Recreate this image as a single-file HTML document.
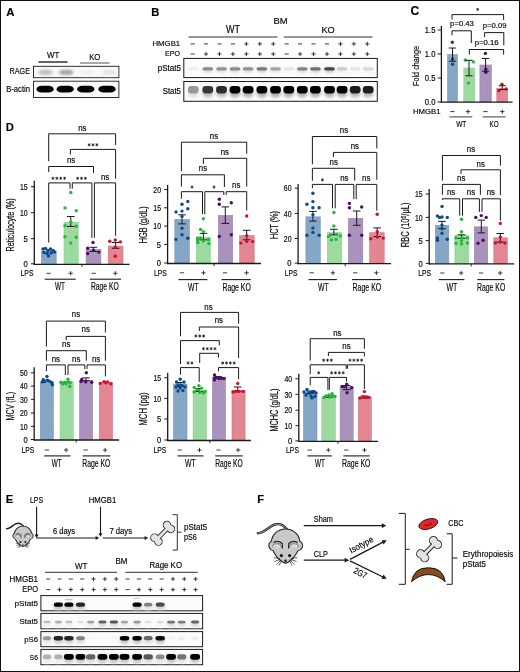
<!DOCTYPE html><html><head><meta charset="utf-8"><style>html,body{margin:0;padding:0;background:#fff;}svg{display:block;}text{font-family:"Liberation Sans",sans-serif;stroke:#1a1a1a;stroke-width:0.18px;}</style></head><body>
<div style="will-change:transform;width:520px;height:672px">
<svg width="520" height="672" viewBox="0 0 520 672">
<defs><filter id="bl" x="-50%" y="-80%" width="200%" height="260%"><feGaussianBlur stdDeviation="0.7"/></filter><filter id="bl2" x="-50%" y="-80%" width="200%" height="260%"><feGaussianBlur stdDeviation="1.1"/></filter><filter id="bl3" x="-80%" y="-100%" width="260%" height="300%"><feGaussianBlur stdDeviation="1.6"/></filter></defs>
<rect x="0" y="0" width="520" height="672" fill="#fff"/>
<text x="6.30" y="15.80" font-size="11.4" font-weight="bold" fill="#000" >A</text>
<text x="47.00" y="58.40" font-size="8.7" textLength="12.30" lengthAdjust="spacingAndGlyphs" >WT</text>
<line x1="38.40" y1="62.00" x2="67.60" y2="62.00" stroke="#111" stroke-width="1.3" />
<text x="89.20" y="59.50" font-size="8.7" textLength="11.20" lengthAdjust="spacingAndGlyphs" >KO</text>
<line x1="80.00" y1="63.00" x2="109.60" y2="63.00" stroke="#6e6e6e" stroke-width="1.2" />
<text x="30.00" y="74.40" font-size="8.6" text-anchor="end" textLength="20.40" lengthAdjust="spacingAndGlyphs" >RAGE</text>
<text x="30.00" y="91.90" font-size="8.4" text-anchor="end" textLength="23.80" lengthAdjust="spacingAndGlyphs" >B-actin</text>
<rect x="33.50" y="66.30" width="85.40" height="11.40" fill="#fafafa" stroke="#1a1a1a" stroke-width="0.9" />
<ellipse cx="45.50" cy="72.40" rx="8.00" ry="3.00" fill="#d7d7d7" filter="url(#bl3)"/>
<rect x="39.50" y="70.40" width="12.00" height="3.60" rx="3.60" ry="1.51" fill="#bcbcbc" filter="url(#bl2)"/>
<ellipse cx="66.20" cy="72.40" rx="8.00" ry="3.00" fill="#c7c7c7" filter="url(#bl3)"/>
<rect x="60.20" y="70.40" width="12.00" height="3.60" rx="3.60" ry="1.51" fill="#a3a3a3" filter="url(#bl2)"/>
<ellipse cx="86.60" cy="72.40" rx="8.00" ry="3.00" fill="#f5f5f5" filter="url(#bl3)"/>
<rect x="80.60" y="70.40" width="12.00" height="3.60" rx="3.60" ry="1.51" fill="#efefef" filter="url(#bl2)"/>
<ellipse cx="109.50" cy="72.40" rx="8.00" ry="3.00" fill="#efefef" filter="url(#bl3)"/>
<rect x="103.50" y="70.40" width="12.00" height="3.60" rx="3.60" ry="1.51" fill="#e5e5e5" filter="url(#bl2)"/>
<rect x="33.50" y="81.20" width="85.40" height="16.30" fill="#fafafa" stroke="#1a1a1a" stroke-width="0.9" />
<rect x="36.50" y="85.80" width="17.20" height="6.80" rx="5.16" ry="3.40" fill="#000000" filter="url(#bl)"/>
<rect x="56.60" y="85.80" width="17.20" height="6.80" rx="5.16" ry="3.40" fill="#000000" filter="url(#bl)"/>
<rect x="77.20" y="85.80" width="17.20" height="6.80" rx="5.16" ry="3.40" fill="#000000" filter="url(#bl)"/>
<rect x="98.40" y="85.80" width="17.20" height="6.80" rx="5.16" ry="3.40" fill="#000000" filter="url(#bl)"/>
<text x="151.30" y="15.60" font-size="11.2" font-weight="bold" fill="#000" >B</text>
<text x="273.50" y="23.50" font-size="9.6" textLength="14.20" lengthAdjust="spacingAndGlyphs" >BM</text>
<text x="226.00" y="32.50" font-size="10.4" textLength="14.00" lengthAdjust="spacingAndGlyphs" >WT</text>
<line x1="188.70" y1="37.00" x2="277.50" y2="37.00" stroke="#1a1a1a" stroke-width="0.9" />
<text x="321.40" y="33.00" font-size="9.8" textLength="13.40" lengthAdjust="spacingAndGlyphs" >KO</text>
<line x1="283.70" y1="37.00" x2="372.50" y2="37.00" stroke="#1a1a1a" stroke-width="0.9" />
<text x="180.20" y="46.00" font-size="7.9" text-anchor="end" textLength="27.70" lengthAdjust="spacingAndGlyphs" >HMGB1</text>
<text x="180.00" y="56.30" font-size="7.6" text-anchor="end" textLength="15.00" lengthAdjust="spacingAndGlyphs" >EPO</text>
<line x1="190.50" y1="43.90" x2="194.70" y2="43.90" stroke="#1a1a1a" stroke-width="0.85" />
<line x1="190.50" y1="54.00" x2="194.70" y2="54.00" stroke="#1a1a1a" stroke-width="0.85" />
<line x1="203.94" y1="43.90" x2="208.14" y2="43.90" stroke="#1a1a1a" stroke-width="0.85" />
<line x1="203.94" y1="54.00" x2="208.14" y2="54.00" stroke="#1a1a1a" stroke-width="0.85" />
<line x1="206.04" y1="51.90" x2="206.04" y2="56.10" stroke="#1a1a1a" stroke-width="0.85" />
<line x1="217.38" y1="43.90" x2="221.58" y2="43.90" stroke="#1a1a1a" stroke-width="0.85" />
<line x1="217.38" y1="54.00" x2="221.58" y2="54.00" stroke="#1a1a1a" stroke-width="0.85" />
<line x1="219.48" y1="51.90" x2="219.48" y2="56.10" stroke="#1a1a1a" stroke-width="0.85" />
<line x1="230.82" y1="43.90" x2="235.02" y2="43.90" stroke="#1a1a1a" stroke-width="0.85" />
<line x1="230.82" y1="54.00" x2="235.02" y2="54.00" stroke="#1a1a1a" stroke-width="0.85" />
<line x1="232.92" y1="51.90" x2="232.92" y2="56.10" stroke="#1a1a1a" stroke-width="0.85" />
<line x1="244.26" y1="43.90" x2="248.46" y2="43.90" stroke="#1a1a1a" stroke-width="0.85" />
<line x1="246.36" y1="41.80" x2="246.36" y2="46.00" stroke="#1a1a1a" stroke-width="0.85" />
<line x1="244.26" y1="54.00" x2="248.46" y2="54.00" stroke="#1a1a1a" stroke-width="0.85" />
<line x1="246.36" y1="51.90" x2="246.36" y2="56.10" stroke="#1a1a1a" stroke-width="0.85" />
<line x1="257.70" y1="43.90" x2="261.90" y2="43.90" stroke="#1a1a1a" stroke-width="0.85" />
<line x1="259.80" y1="41.80" x2="259.80" y2="46.00" stroke="#1a1a1a" stroke-width="0.85" />
<line x1="257.70" y1="54.00" x2="261.90" y2="54.00" stroke="#1a1a1a" stroke-width="0.85" />
<line x1="259.80" y1="51.90" x2="259.80" y2="56.10" stroke="#1a1a1a" stroke-width="0.85" />
<line x1="271.14" y1="43.90" x2="275.34" y2="43.90" stroke="#1a1a1a" stroke-width="0.85" />
<line x1="273.24" y1="41.80" x2="273.24" y2="46.00" stroke="#1a1a1a" stroke-width="0.85" />
<line x1="271.14" y1="54.00" x2="275.34" y2="54.00" stroke="#1a1a1a" stroke-width="0.85" />
<line x1="273.24" y1="51.90" x2="273.24" y2="56.10" stroke="#1a1a1a" stroke-width="0.85" />
<line x1="284.58" y1="43.90" x2="288.78" y2="43.90" stroke="#1a1a1a" stroke-width="0.85" />
<line x1="284.58" y1="54.00" x2="288.78" y2="54.00" stroke="#1a1a1a" stroke-width="0.85" />
<line x1="298.02" y1="43.90" x2="302.22" y2="43.90" stroke="#1a1a1a" stroke-width="0.85" />
<line x1="298.02" y1="54.00" x2="302.22" y2="54.00" stroke="#1a1a1a" stroke-width="0.85" />
<line x1="300.12" y1="51.90" x2="300.12" y2="56.10" stroke="#1a1a1a" stroke-width="0.85" />
<line x1="311.46" y1="43.90" x2="315.66" y2="43.90" stroke="#1a1a1a" stroke-width="0.85" />
<line x1="311.46" y1="54.00" x2="315.66" y2="54.00" stroke="#1a1a1a" stroke-width="0.85" />
<line x1="313.56" y1="51.90" x2="313.56" y2="56.10" stroke="#1a1a1a" stroke-width="0.85" />
<line x1="324.90" y1="43.90" x2="329.10" y2="43.90" stroke="#1a1a1a" stroke-width="0.85" />
<line x1="324.90" y1="54.00" x2="329.10" y2="54.00" stroke="#1a1a1a" stroke-width="0.85" />
<line x1="327.00" y1="51.90" x2="327.00" y2="56.10" stroke="#1a1a1a" stroke-width="0.85" />
<line x1="338.34" y1="43.90" x2="342.54" y2="43.90" stroke="#1a1a1a" stroke-width="0.85" />
<line x1="340.44" y1="41.80" x2="340.44" y2="46.00" stroke="#1a1a1a" stroke-width="0.85" />
<line x1="338.34" y1="54.00" x2="342.54" y2="54.00" stroke="#1a1a1a" stroke-width="0.85" />
<line x1="340.44" y1="51.90" x2="340.44" y2="56.10" stroke="#1a1a1a" stroke-width="0.85" />
<line x1="351.78" y1="43.90" x2="355.98" y2="43.90" stroke="#1a1a1a" stroke-width="0.85" />
<line x1="353.88" y1="41.80" x2="353.88" y2="46.00" stroke="#1a1a1a" stroke-width="0.85" />
<line x1="351.78" y1="54.00" x2="355.98" y2="54.00" stroke="#1a1a1a" stroke-width="0.85" />
<line x1="353.88" y1="51.90" x2="353.88" y2="56.10" stroke="#1a1a1a" stroke-width="0.85" />
<line x1="365.22" y1="43.90" x2="369.42" y2="43.90" stroke="#1a1a1a" stroke-width="0.85" />
<line x1="367.32" y1="41.80" x2="367.32" y2="46.00" stroke="#1a1a1a" stroke-width="0.85" />
<line x1="365.22" y1="54.00" x2="369.42" y2="54.00" stroke="#1a1a1a" stroke-width="0.85" />
<line x1="367.32" y1="51.90" x2="367.32" y2="56.10" stroke="#1a1a1a" stroke-width="0.85" />
<text x="181.00" y="70.80" font-size="8.2" text-anchor="end" textLength="23.20" lengthAdjust="spacingAndGlyphs" >pStat5</text>
<text x="181.00" y="94.00" font-size="8.2" text-anchor="end" textLength="18.30" lengthAdjust="spacingAndGlyphs" >Stat5</text>
<rect x="183.80" y="58.40" width="193.50" height="19.20" fill="#fbfbfb" stroke="#1a1a1a" stroke-width="1.0" />
<ellipse cx="193.30" cy="70.00" rx="5.25" ry="3.00" fill="#fafafa" filter="url(#bl3)"/>
<rect x="188.10" y="67.20" width="10.40" height="3.40" rx="3.12" ry="1.43" fill="#efefef" filter="url(#bl)"/>
<ellipse cx="207.80" cy="70.00" rx="5.25" ry="3.00" fill="#dcdcdc" filter="url(#bl3)"/>
<rect x="202.60" y="67.20" width="10.40" height="3.40" rx="3.12" ry="1.43" fill="#8c8c8c" filter="url(#bl)"/>
<ellipse cx="221.50" cy="70.00" rx="5.25" ry="3.00" fill="#dedede" filter="url(#bl3)"/>
<rect x="216.30" y="67.20" width="10.40" height="3.40" rx="3.12" ry="1.43" fill="#939393" filter="url(#bl)"/>
<ellipse cx="235.00" cy="70.00" rx="5.25" ry="3.00" fill="#dcdcdc" filter="url(#bl3)"/>
<rect x="229.80" y="67.20" width="10.40" height="3.40" rx="3.12" ry="1.43" fill="#8c8c8c" filter="url(#bl)"/>
<ellipse cx="248.10" cy="70.00" rx="5.25" ry="3.00" fill="#dedede" filter="url(#bl3)"/>
<rect x="242.90" y="67.20" width="10.40" height="3.40" rx="3.12" ry="1.43" fill="#939393" filter="url(#bl)"/>
<ellipse cx="261.90" cy="70.00" rx="5.25" ry="3.00" fill="#d7d7d7" filter="url(#bl3)"/>
<rect x="256.70" y="67.20" width="10.40" height="3.40" rx="3.12" ry="1.43" fill="#7a7a7a" filter="url(#bl)"/>
<ellipse cx="275.50" cy="70.00" rx="5.25" ry="3.00" fill="#e3e3e3" filter="url(#bl3)"/>
<rect x="270.30" y="67.20" width="10.40" height="3.40" rx="3.12" ry="1.43" fill="#a3a3a3" filter="url(#bl)"/>
<ellipse cx="288.80" cy="70.00" rx="5.25" ry="3.00" fill="#f7f7f7" filter="url(#bl3)"/>
<rect x="283.60" y="67.20" width="10.40" height="3.40" rx="3.12" ry="1.43" fill="#e5e5e5" filter="url(#bl)"/>
<ellipse cx="302.30" cy="70.00" rx="5.25" ry="3.00" fill="#dadada" filter="url(#bl3)"/>
<rect x="297.10" y="67.20" width="10.40" height="3.40" rx="3.12" ry="1.43" fill="#848484" filter="url(#bl)"/>
<ellipse cx="315.40" cy="70.00" rx="5.25" ry="3.00" fill="#d4d4d4" filter="url(#bl3)"/>
<rect x="310.20" y="67.20" width="10.40" height="3.40" rx="3.12" ry="1.43" fill="#727272" filter="url(#bl)"/>
<ellipse cx="329.50" cy="70.00" rx="5.25" ry="3.00" fill="#c7c7c7" filter="url(#bl3)"/>
<rect x="324.30" y="67.20" width="10.40" height="3.40" rx="3.12" ry="1.43" fill="#474747" filter="url(#bl)"/>
<ellipse cx="342.10" cy="70.00" rx="5.25" ry="3.00" fill="#efefef" filter="url(#bl3)"/>
<rect x="336.90" y="67.20" width="10.40" height="3.40" rx="3.12" ry="1.43" fill="#cccccc" filter="url(#bl)"/>
<ellipse cx="355.20" cy="70.00" rx="5.25" ry="3.00" fill="#f7f7f7" filter="url(#bl3)"/>
<rect x="350.00" y="67.20" width="10.40" height="3.40" rx="3.12" ry="1.43" fill="#e5e5e5" filter="url(#bl)"/>
<ellipse cx="368.20" cy="70.00" rx="5.25" ry="3.00" fill="#f3f3f3" filter="url(#bl3)"/>
<rect x="363.00" y="67.20" width="10.40" height="3.40" rx="3.12" ry="1.43" fill="#d8d8d8" filter="url(#bl)"/>
<rect x="183.80" y="81.50" width="193.50" height="19.80" fill="#fbfbfb" stroke="#1a1a1a" stroke-width="1.0" />
<ellipse cx="193.30" cy="93.00" rx="5.50" ry="4.50" fill="#e0e0e0" filter="url(#bl3)"/>
<rect x="187.90" y="86.00" width="10.80" height="7.40" rx="3.24" ry="3.11" fill="#999999" filter="url(#bl)"/>
<ellipse cx="207.80" cy="93.00" rx="5.50" ry="4.50" fill="#c3c3c3" filter="url(#bl3)"/>
<rect x="202.40" y="86.00" width="10.80" height="7.40" rx="3.24" ry="3.11" fill="#383838" filter="url(#bl)"/>
<ellipse cx="221.50" cy="93.00" rx="5.50" ry="4.50" fill="#c0c0c0" filter="url(#bl3)"/>
<rect x="216.10" y="86.00" width="10.80" height="7.40" rx="3.24" ry="3.11" fill="#2d2d2d" filter="url(#bl)"/>
<ellipse cx="235.00" cy="93.00" rx="5.50" ry="4.50" fill="#b2b2b2" filter="url(#bl3)"/>
<rect x="229.60" y="86.00" width="10.80" height="7.40" rx="3.24" ry="3.11" fill="#000000" filter="url(#bl)"/>
<ellipse cx="248.10" cy="93.00" rx="5.50" ry="4.50" fill="#b2b2b2" filter="url(#bl3)"/>
<rect x="242.70" y="86.00" width="10.80" height="7.40" rx="3.24" ry="3.11" fill="#000000" filter="url(#bl)"/>
<ellipse cx="261.90" cy="93.00" rx="5.50" ry="4.50" fill="#b2b2b2" filter="url(#bl3)"/>
<rect x="256.50" y="86.00" width="10.80" height="7.40" rx="3.24" ry="3.11" fill="#000000" filter="url(#bl)"/>
<ellipse cx="275.50" cy="93.00" rx="5.50" ry="4.50" fill="#b2b2b2" filter="url(#bl3)"/>
<rect x="270.10" y="86.00" width="10.80" height="7.40" rx="3.24" ry="3.11" fill="#000000" filter="url(#bl)"/>
<ellipse cx="288.80" cy="93.00" rx="5.50" ry="4.50" fill="#b2b2b2" filter="url(#bl3)"/>
<rect x="283.40" y="86.00" width="10.80" height="7.40" rx="3.24" ry="3.11" fill="#000000" filter="url(#bl)"/>
<ellipse cx="302.30" cy="93.00" rx="5.50" ry="4.50" fill="#b2b2b2" filter="url(#bl3)"/>
<rect x="296.90" y="86.00" width="10.80" height="7.40" rx="3.24" ry="3.11" fill="#000000" filter="url(#bl)"/>
<ellipse cx="315.40" cy="93.00" rx="5.50" ry="4.50" fill="#b2b2b2" filter="url(#bl3)"/>
<rect x="310.00" y="86.00" width="10.80" height="7.40" rx="3.24" ry="3.11" fill="#000000" filter="url(#bl)"/>
<ellipse cx="329.50" cy="93.00" rx="5.50" ry="4.50" fill="#b2b2b2" filter="url(#bl3)"/>
<rect x="324.10" y="86.00" width="10.80" height="7.40" rx="3.24" ry="3.11" fill="#000000" filter="url(#bl)"/>
<ellipse cx="342.10" cy="93.00" rx="5.50" ry="4.50" fill="#b2b2b2" filter="url(#bl3)"/>
<rect x="336.70" y="86.00" width="10.80" height="7.40" rx="3.24" ry="3.11" fill="#000000" filter="url(#bl)"/>
<ellipse cx="355.20" cy="93.00" rx="5.50" ry="4.50" fill="#bbbbbb" filter="url(#bl3)"/>
<rect x="349.80" y="86.00" width="10.80" height="7.40" rx="3.24" ry="3.11" fill="#1e1e1e" filter="url(#bl)"/>
<ellipse cx="368.20" cy="93.00" rx="5.50" ry="4.50" fill="#bbbbbb" filter="url(#bl3)"/>
<rect x="362.80" y="86.00" width="10.80" height="7.40" rx="3.24" ry="3.11" fill="#1e1e1e" filter="url(#bl)"/>
<text x="410.40" y="15.30" font-size="12.0" font-weight="bold" fill="#000" >C</text>
<rect x="447.60" y="54.60" width="9.80" height="47.40" fill="#86a6c6" stroke="#7898ba" stroke-width="0.6" />
<rect x="463.80" y="68.00" width="10.90" height="34.00" fill="#9ddaa0" stroke="#8ccf90" stroke-width="0.6" />
<rect x="479.90" y="65.00" width="11.40" height="37.00" fill="#aa92bc" stroke="#9a82ae" stroke-width="0.6" />
<rect x="496.80" y="88.30" width="10.90" height="13.70" fill="#e18692" stroke="#d87684" stroke-width="0.6" />
<circle cx="452.30" cy="42.20" r="1.7" fill="#0b4a8b"/>
<circle cx="452.60" cy="58.90" r="1.7" fill="#0b4a8b"/>
<circle cx="452.60" cy="64.20" r="1.7" fill="#0b4a8b"/>
<circle cx="465.30" cy="60.00" r="1.7" fill="#27b53c"/>
<circle cx="473.40" cy="61.90" r="1.7" fill="#27b53c"/>
<circle cx="468.50" cy="83.10" r="1.7" fill="#27b53c"/>
<circle cx="485.40" cy="53.40" r="1.7" fill="#4b1068"/>
<circle cx="485.80" cy="69.20" r="1.7" fill="#4b1068"/>
<circle cx="485.80" cy="72.20" r="1.7" fill="#4b1068"/>
<circle cx="498.80" cy="90.70" r="1.7" fill="#d0112b"/>
<circle cx="502.00" cy="84.20" r="1.7" fill="#d0112b"/>
<circle cx="506.20" cy="88.90" r="1.7" fill="#d0112b"/>
<line x1="452.50" y1="48.00" x2="452.50" y2="61.20" stroke="#1a1a1a" stroke-width="1.0" />
<line x1="448.90" y1="48.00" x2="456.10" y2="48.00" stroke="#1a1a1a" stroke-width="1.0" />
<line x1="448.90" y1="61.20" x2="456.10" y2="61.20" stroke="#1a1a1a" stroke-width="1.0" />
<line x1="469.00" y1="60.30" x2="469.00" y2="75.80" stroke="#1a1a1a" stroke-width="1.0" />
<line x1="465.40" y1="60.30" x2="472.60" y2="60.30" stroke="#1a1a1a" stroke-width="1.0" />
<line x1="465.40" y1="75.80" x2="472.60" y2="75.80" stroke="#1a1a1a" stroke-width="1.0" />
<line x1="485.60" y1="58.50" x2="485.60" y2="71.20" stroke="#1a1a1a" stroke-width="1.0" />
<line x1="482.00" y1="58.50" x2="489.20" y2="58.50" stroke="#1a1a1a" stroke-width="1.0" />
<line x1="482.00" y1="71.20" x2="489.20" y2="71.20" stroke="#1a1a1a" stroke-width="1.0" />
<line x1="502.20" y1="85.70" x2="502.20" y2="89.60" stroke="#1a1a1a" stroke-width="1.0" />
<line x1="498.60" y1="85.70" x2="505.80" y2="85.70" stroke="#1a1a1a" stroke-width="1.0" />
<line x1="498.60" y1="89.60" x2="505.80" y2="89.60" stroke="#1a1a1a" stroke-width="1.0" />
<line x1="441.40" y1="26.00" x2="441.40" y2="102.70" stroke="#1a1a1a" stroke-width="1.3" />
<line x1="440.80" y1="102.10" x2="512.50" y2="102.10" stroke="#1a1a1a" stroke-width="1.3" />
<line x1="437.60" y1="30.00" x2="441.20" y2="30.00" stroke="#1a1a1a" stroke-width="1.0" />
<text x="435.40" y="33.10" font-size="8.6" text-anchor="end" textLength="10.60" lengthAdjust="spacingAndGlyphs" >1.5</text>
<line x1="437.60" y1="54.00" x2="441.20" y2="54.00" stroke="#1a1a1a" stroke-width="1.0" />
<text x="435.40" y="57.10" font-size="8.6" text-anchor="end" textLength="10.60" lengthAdjust="spacingAndGlyphs" >1.0</text>
<line x1="437.60" y1="78.00" x2="441.20" y2="78.00" stroke="#1a1a1a" stroke-width="1.0" />
<text x="435.40" y="81.10" font-size="8.6" text-anchor="end" textLength="10.60" lengthAdjust="spacingAndGlyphs" >0.5</text>
<line x1="437.60" y1="102.00" x2="441.20" y2="102.00" stroke="#1a1a1a" stroke-width="1.0" />
<text x="435.40" y="105.10" font-size="8.6" text-anchor="end" textLength="10.60" lengthAdjust="spacingAndGlyphs" >0.0</text>
<text x="419.20" y="66.00" font-size="9.4" text-anchor="middle" textLength="40.00" lengthAdjust="spacingAndGlyphs" transform="rotate(-90 419.20 66.00)" >Fold change</text>
<polyline points="452.00,19.30 452.00,14.60 503.60,14.60 503.60,20.00" fill="none" stroke="#1a1a1a" stroke-width="1.0"/>
<path d="M477.70,7.85L477.70,10.95M476.36,8.62L479.04,10.18M479.04,8.62L476.36,10.18" stroke="#1a1a1a" stroke-width="0.8" fill="none"/>
<polyline points="452.00,35.40 452.00,30.80 471.30,30.80 471.30,43.00" fill="none" stroke="#1a1a1a" stroke-width="1.0"/>
<text x="462.00" y="26.30" font-size="7.8" text-anchor="middle" textLength="23.80" lengthAdjust="spacingAndGlyphs" >p=0.43</text>
<polyline points="484.60,37.00 484.60,32.60 503.80,32.60 503.80,45.40" fill="none" stroke="#1a1a1a" stroke-width="1.0"/>
<text x="494.70" y="27.70" font-size="7.8" text-anchor="middle" textLength="23.70" lengthAdjust="spacingAndGlyphs" >p=0.09</text>
<polyline points="469.30,54.60 469.30,49.50 503.60,49.50 503.60,54.60" fill="none" stroke="#1a1a1a" stroke-width="1.0"/>
<text x="486.60" y="45.10" font-size="7.8" text-anchor="middle" textLength="23.90" lengthAdjust="spacingAndGlyphs" >p=0.16</text>
<text x="440.60" y="113.70" font-size="7.9" text-anchor="end" textLength="27.60" lengthAdjust="spacingAndGlyphs" >HMGB1</text>
<line x1="450.20" y1="111.60" x2="454.60" y2="111.60" stroke="#1a1a1a" stroke-width="0.85" />
<line x1="465.85" y1="111.60" x2="470.15" y2="111.60" stroke="#1a1a1a" stroke-width="0.85" />
<line x1="468.00" y1="109.45" x2="468.00" y2="113.75" stroke="#1a1a1a" stroke-width="0.85" />
<line x1="483.20" y1="111.60" x2="487.60" y2="111.60" stroke="#1a1a1a" stroke-width="0.85" />
<line x1="500.15" y1="111.60" x2="504.45" y2="111.60" stroke="#1a1a1a" stroke-width="0.85" />
<line x1="502.30" y1="109.45" x2="502.30" y2="113.75" stroke="#1a1a1a" stroke-width="0.85" />
<line x1="449.40" y1="116.90" x2="472.30" y2="116.90" stroke="#1a1a1a" stroke-width="0.85" />
<line x1="482.80" y1="116.90" x2="505.50" y2="116.90" stroke="#1a1a1a" stroke-width="0.85" />
<text x="461.25" y="127.40" font-size="9.4" text-anchor="middle" textLength="10.10" lengthAdjust="spacingAndGlyphs" >WT</text>
<text x="494.15" y="127.40" font-size="9.4" text-anchor="middle" textLength="9.10" lengthAdjust="spacingAndGlyphs" >KO</text>
<text x="5.80" y="130.80" font-size="11.2" font-weight="bold" fill="#000" >D</text>
<rect x="41.50" y="251.10" width="14.70" height="12.70" fill="#86a6c6" stroke="#7898ba" stroke-width="0.6" />
<rect x="64.00" y="222.20" width="14.20" height="41.60" fill="#9ddaa0" stroke="#8ccf90" stroke-width="0.6" />
<rect x="86.10" y="249.50" width="14.80" height="14.30" fill="#aa92bc" stroke="#9a82ae" stroke-width="0.6" />
<rect x="108.20" y="246.10" width="14.80" height="17.70" fill="#e18692" stroke="#d87684" stroke-width="0.6" />
<polyline points="48.70,161.30 48.70,133.80 115.60,133.80 115.60,145.00" fill="none" stroke="#1a1a1a" stroke-width="1.0"/>
<text x="82.40" y="131.20" font-size="8.4" text-anchor="middle" textLength="8.30" lengthAdjust="spacingAndGlyphs" >ns</text>
<polyline points="70.40,154.60 70.40,149.40 115.60,149.40 115.60,178.70" fill="none" stroke="#1a1a1a" stroke-width="1.0"/>
<path d="M89.15,143.25L89.15,146.35M87.81,144.03L90.49,145.58M90.49,144.03L87.81,145.58M93.00,143.25L93.00,146.35M91.66,144.03L94.34,145.58M94.34,144.03L91.66,145.58M96.85,143.25L96.85,146.35M95.51,144.03L98.19,145.58M98.19,144.03L95.51,145.58" stroke="#1a1a1a" stroke-width="0.8" fill="none"/>
<polyline points="48.70,172.00 48.70,166.50 93.50,166.50 93.50,172.90" fill="none" stroke="#1a1a1a" stroke-width="1.0"/>
<text x="71.10" y="163.30" font-size="8.4" text-anchor="middle" textLength="8.30" lengthAdjust="spacingAndGlyphs" >ns</text>
<polyline points="48.70,242.50 48.70,182.90 70.00,182.90 70.00,188.70" fill="none" stroke="#1a1a1a" stroke-width="1.0"/>
<path d="M53.02,176.75L53.02,179.85M51.68,177.53L54.37,179.08M54.37,177.53L51.68,179.08M56.88,176.75L56.88,179.85M55.53,177.53L58.22,179.08M58.22,177.53L55.53,179.08M60.73,176.75L60.73,179.85M59.38,177.53L62.07,179.08M62.07,177.53L59.38,179.08M64.58,176.75L64.58,179.85M63.23,177.53L65.92,179.08M65.92,177.53L63.23,179.08" stroke="#1a1a1a" stroke-width="0.8" fill="none"/>
<polyline points="72.30,188.70 72.30,182.90 91.90,182.90 91.90,238.00" fill="none" stroke="#1a1a1a" stroke-width="1.0"/>
<path d="M77.65,176.75L77.65,179.85M76.31,177.53L78.99,179.08M78.99,177.53L76.31,179.08M81.50,176.75L81.50,179.85M80.16,177.53L82.84,179.08M82.84,177.53L80.16,179.08M85.35,176.75L85.35,179.85M84.01,177.53L86.69,179.08M86.69,177.53L84.01,179.08" stroke="#1a1a1a" stroke-width="0.8" fill="none"/>
<polyline points="94.40,237.70 94.40,182.90 115.60,182.90 115.60,235.80" fill="none" stroke="#1a1a1a" stroke-width="1.0"/>
<text x="105.10" y="179.60" font-size="8.4" text-anchor="middle" textLength="8.30" lengthAdjust="spacingAndGlyphs" >ns</text>
<line x1="70.80" y1="216.50" x2="70.80" y2="226.50" stroke="#1a1a1a" stroke-width="1.0" />
<line x1="67.00" y1="216.50" x2="74.60" y2="216.50" stroke="#1a1a1a" stroke-width="1.0" />
<line x1="67.00" y1="226.50" x2="74.60" y2="226.50" stroke="#1a1a1a" stroke-width="1.0" />
<line x1="93.30" y1="247.30" x2="93.30" y2="251.50" stroke="#1a1a1a" stroke-width="1.0" />
<line x1="89.50" y1="247.30" x2="97.10" y2="247.30" stroke="#1a1a1a" stroke-width="1.0" />
<line x1="89.50" y1="251.50" x2="97.10" y2="251.50" stroke="#1a1a1a" stroke-width="1.0" />
<line x1="115.60" y1="242.50" x2="115.60" y2="248.30" stroke="#1a1a1a" stroke-width="1.0" />
<line x1="111.80" y1="242.50" x2="119.40" y2="242.50" stroke="#1a1a1a" stroke-width="1.0" />
<line x1="111.80" y1="248.30" x2="119.40" y2="248.30" stroke="#1a1a1a" stroke-width="1.0" />
<circle cx="43.00" cy="249.00" r="1.7" fill="#0b4a8b"/>
<circle cx="45.50" cy="248.50" r="1.7" fill="#0b4a8b"/>
<circle cx="48.00" cy="250.50" r="1.7" fill="#0b4a8b"/>
<circle cx="50.50" cy="249.00" r="1.7" fill="#0b4a8b"/>
<circle cx="53.00" cy="250.50" r="1.7" fill="#0b4a8b"/>
<circle cx="54.50" cy="252.00" r="1.7" fill="#0b4a8b"/>
<circle cx="44.00" cy="252.50" r="1.7" fill="#0b4a8b"/>
<circle cx="47.00" cy="253.50" r="1.7" fill="#0b4a8b"/>
<circle cx="51.00" cy="253.00" r="1.7" fill="#0b4a8b"/>
<circle cx="48.50" cy="256.00" r="1.7" fill="#0b4a8b"/>
<circle cx="70.80" cy="192.50" r="1.7" fill="#27b53c"/>
<circle cx="65.00" cy="207.90" r="1.7" fill="#27b53c"/>
<circle cx="76.20" cy="210.80" r="1.7" fill="#27b53c"/>
<circle cx="70.80" cy="221.90" r="1.7" fill="#27b53c"/>
<circle cx="65.00" cy="225.80" r="1.7" fill="#27b53c"/>
<circle cx="76.20" cy="226.20" r="1.7" fill="#27b53c"/>
<circle cx="65.00" cy="236.70" r="1.7" fill="#27b53c"/>
<circle cx="76.20" cy="237.30" r="1.7" fill="#27b53c"/>
<circle cx="70.80" cy="242.90" r="1.7" fill="#27b53c"/>
<circle cx="93.00" cy="242.50" r="1.7" fill="#4b1068"/>
<circle cx="87.70" cy="248.30" r="1.7" fill="#4b1068"/>
<circle cx="93.50" cy="250.20" r="1.7" fill="#4b1068"/>
<circle cx="98.80" cy="252.10" r="1.7" fill="#4b1068"/>
<circle cx="87.70" cy="253.50" r="1.7" fill="#4b1068"/>
<circle cx="109.80" cy="241.20" r="1.7" fill="#d0112b"/>
<circle cx="115.20" cy="240.00" r="1.7" fill="#d0112b"/>
<circle cx="120.40" cy="241.90" r="1.7" fill="#d0112b"/>
<circle cx="115.20" cy="247.30" r="1.7" fill="#d0112b"/>
<circle cx="115.20" cy="256.30" r="1.7" fill="#d0112b"/>
<line x1="34.30" y1="180.70" x2="34.30" y2="264.90" stroke="#1a1a1a" stroke-width="1.3" />
<line x1="33.70" y1="264.30" x2="129.50" y2="264.30" stroke="#1a1a1a" stroke-width="1.3" />
<line x1="82.00" y1="264.30" x2="82.00" y2="266.90" stroke="#1a1a1a" stroke-width="0.9" />
<line x1="30.90" y1="186.70" x2="34.30" y2="186.70" stroke="#1a1a1a" stroke-width="1.0" />
<text x="27.70" y="189.90" font-size="8.6" text-anchor="end" textLength="7.70" lengthAdjust="spacingAndGlyphs" >15</text>
<line x1="30.90" y1="212.70" x2="34.30" y2="212.70" stroke="#1a1a1a" stroke-width="1.0" />
<text x="27.70" y="215.90" font-size="8.6" text-anchor="end" textLength="7.70" lengthAdjust="spacingAndGlyphs" >10</text>
<line x1="30.90" y1="238.70" x2="34.30" y2="238.70" stroke="#1a1a1a" stroke-width="1.0" />
<text x="27.70" y="241.90" font-size="8.6" text-anchor="end" textLength="4.20" lengthAdjust="spacingAndGlyphs" >5</text>
<line x1="30.90" y1="263.80" x2="34.30" y2="263.80" stroke="#1a1a1a" stroke-width="1.0" />
<text x="27.70" y="267.00" font-size="8.6" text-anchor="end" textLength="4.20" lengthAdjust="spacingAndGlyphs" >0</text>
<text x="14.10" y="224.85" font-size="10.0" text-anchor="middle" textLength="53.30" lengthAdjust="spacingAndGlyphs" transform="rotate(-90 14.10 224.85)" >Reticulocyte (%)</text>
<text x="33.40" y="276.00" font-size="8.9" text-anchor="end" textLength="12.80" lengthAdjust="spacingAndGlyphs" >LPS</text>
<line x1="46.45" y1="273.30" x2="50.75" y2="273.30" stroke="#1a1a1a" stroke-width="0.85" />
<line x1="68.55" y1="273.30" x2="72.85" y2="273.30" stroke="#1a1a1a" stroke-width="0.85" />
<line x1="70.70" y1="271.15" x2="70.70" y2="275.45" stroke="#1a1a1a" stroke-width="0.85" />
<line x1="91.65" y1="273.30" x2="95.95" y2="273.30" stroke="#1a1a1a" stroke-width="0.85" />
<line x1="113.15" y1="273.30" x2="117.45" y2="273.30" stroke="#1a1a1a" stroke-width="0.85" />
<line x1="115.30" y1="271.15" x2="115.30" y2="275.45" stroke="#1a1a1a" stroke-width="0.85" />
<line x1="44.70" y1="279.20" x2="75.70" y2="279.20" stroke="#1a1a1a" stroke-width="1.1" />
<line x1="89.90" y1="279.20" x2="121.00" y2="279.20" stroke="#1a1a1a" stroke-width="1.1" />
<text x="60.00" y="290.30" font-size="10.2" text-anchor="middle" textLength="10.00" lengthAdjust="spacingAndGlyphs" >WT</text>
<text x="104.85" y="290.30" font-size="10.2" text-anchor="middle" textLength="27.70" lengthAdjust="spacingAndGlyphs" >Rage KO</text>
<rect x="174.80" y="219.60" width="14.60" height="43.40" fill="#86a6c6" stroke="#7898ba" stroke-width="0.6" />
<rect x="196.30" y="237.40" width="14.10" height="25.60" fill="#9ddaa0" stroke="#8ccf90" stroke-width="0.6" />
<rect x="218.30" y="215.40" width="14.40" height="47.60" fill="#aa92bc" stroke="#9a82ae" stroke-width="0.6" />
<rect x="239.70" y="235.50" width="14.50" height="27.50" fill="#e18692" stroke="#d87684" stroke-width="0.6" />
<polyline points="181.40,171.10 181.40,142.20 246.70,142.20 246.70,153.70" fill="none" stroke="#1a1a1a" stroke-width="1.0"/>
<text x="214.00" y="139.10" font-size="8.4" text-anchor="middle" textLength="8.30" lengthAdjust="spacingAndGlyphs" >ns</text>
<polyline points="203.40,163.80 203.40,158.30 246.70,158.30 246.70,186.60" fill="none" stroke="#1a1a1a" stroke-width="1.0"/>
<text x="224.90" y="154.70" font-size="8.4" text-anchor="middle" textLength="8.30" lengthAdjust="spacingAndGlyphs" >ns</text>
<polyline points="181.40,186.60 181.40,174.80 224.40,174.80 224.40,187.00" fill="none" stroke="#1a1a1a" stroke-width="1.0"/>
<text x="203.00" y="171.10" font-size="8.4" text-anchor="middle" textLength="8.30" lengthAdjust="spacingAndGlyphs" >ns</text>
<polyline points="181.40,198.70 181.40,191.70 202.50,191.70 202.50,214.20" fill="none" stroke="#1a1a1a" stroke-width="1.0"/>
<path d="M192.00,185.55L192.00,188.65M190.66,186.32L193.34,187.88M193.34,186.32L190.66,187.88" stroke="#1a1a1a" stroke-width="0.8" fill="none"/>
<polyline points="204.80,214.20 204.80,191.70 223.80,191.70 223.80,195.00" fill="none" stroke="#1a1a1a" stroke-width="1.0"/>
<path d="M214.00,185.55L214.00,188.65M212.66,186.32L215.34,187.88M215.34,186.32L212.66,187.88" stroke="#1a1a1a" stroke-width="0.8" fill="none"/>
<polyline points="226.20,195.00 226.20,191.70 246.70,191.70 246.70,210.60" fill="none" stroke="#1a1a1a" stroke-width="1.0"/>
<text x="236.20" y="187.50" font-size="8.4" text-anchor="middle" textLength="8.30" lengthAdjust="spacingAndGlyphs" >ns</text>
<line x1="182.00" y1="214.80" x2="182.00" y2="223.90" stroke="#1a1a1a" stroke-width="1.0" />
<line x1="178.20" y1="214.80" x2="185.80" y2="214.80" stroke="#1a1a1a" stroke-width="1.0" />
<line x1="178.20" y1="223.90" x2="185.80" y2="223.90" stroke="#1a1a1a" stroke-width="1.0" />
<line x1="203.40" y1="233.40" x2="203.40" y2="239.80" stroke="#1a1a1a" stroke-width="1.0" />
<line x1="199.60" y1="233.40" x2="207.20" y2="233.40" stroke="#1a1a1a" stroke-width="1.0" />
<line x1="199.60" y1="239.80" x2="207.20" y2="239.80" stroke="#1a1a1a" stroke-width="1.0" />
<line x1="225.30" y1="206.90" x2="225.30" y2="223.40" stroke="#1a1a1a" stroke-width="1.0" />
<line x1="221.50" y1="206.90" x2="229.10" y2="206.90" stroke="#1a1a1a" stroke-width="1.0" />
<line x1="221.50" y1="223.40" x2="229.10" y2="223.40" stroke="#1a1a1a" stroke-width="1.0" />
<line x1="246.70" y1="230.30" x2="246.70" y2="239.80" stroke="#1a1a1a" stroke-width="1.0" />
<line x1="242.90" y1="230.30" x2="250.50" y2="230.30" stroke="#1a1a1a" stroke-width="1.0" />
<line x1="242.90" y1="239.80" x2="250.50" y2="239.80" stroke="#1a1a1a" stroke-width="1.0" />
<circle cx="187.80" cy="201.40" r="1.7" fill="#0b4a8b"/>
<circle cx="182.00" cy="204.20" r="1.7" fill="#0b4a8b"/>
<circle cx="187.80" cy="208.70" r="1.7" fill="#0b4a8b"/>
<circle cx="176.00" cy="212.00" r="1.7" fill="#0b4a8b"/>
<circle cx="182.00" cy="211.10" r="1.7" fill="#0b4a8b"/>
<circle cx="182.00" cy="216.40" r="1.7" fill="#0b4a8b"/>
<circle cx="182.00" cy="228.30" r="1.7" fill="#0b4a8b"/>
<circle cx="182.00" cy="234.70" r="1.7" fill="#0b4a8b"/>
<circle cx="187.80" cy="238.30" r="1.7" fill="#0b4a8b"/>
<circle cx="176.00" cy="239.40" r="1.7" fill="#0b4a8b"/>
<circle cx="203.40" cy="218.80" r="1.7" fill="#27b53c"/>
<circle cx="200.60" cy="229.40" r="1.7" fill="#27b53c"/>
<circle cx="203.40" cy="231.60" r="1.7" fill="#27b53c"/>
<circle cx="197.50" cy="238.00" r="1.7" fill="#27b53c"/>
<circle cx="200.60" cy="238.00" r="1.7" fill="#27b53c"/>
<circle cx="197.50" cy="240.00" r="1.7" fill="#27b53c"/>
<circle cx="203.40" cy="241.00" r="1.7" fill="#27b53c"/>
<circle cx="208.50" cy="239.50" r="1.7" fill="#27b53c"/>
<circle cx="208.80" cy="243.50" r="1.7" fill="#27b53c"/>
<circle cx="197.90" cy="242.50" r="1.7" fill="#27b53c"/>
<circle cx="219.30" cy="199.20" r="1.7" fill="#4b1068"/>
<circle cx="219.30" cy="204.20" r="1.7" fill="#4b1068"/>
<circle cx="231.30" cy="202.70" r="1.7" fill="#4b1068"/>
<circle cx="219.30" cy="236.50" r="1.7" fill="#4b1068"/>
<circle cx="231.30" cy="234.70" r="1.7" fill="#4b1068"/>
<circle cx="246.70" cy="216.00" r="1.7" fill="#d0112b"/>
<circle cx="246.70" cy="235.80" r="1.7" fill="#d0112b"/>
<circle cx="240.80" cy="243.10" r="1.7" fill="#d0112b"/>
<circle cx="246.70" cy="241.30" r="1.7" fill="#d0112b"/>
<circle cx="252.70" cy="241.60" r="1.7" fill="#d0112b"/>
<line x1="167.60" y1="184.90" x2="167.60" y2="264.10" stroke="#1a1a1a" stroke-width="1.3" />
<line x1="167.00" y1="263.50" x2="261.00" y2="263.50" stroke="#1a1a1a" stroke-width="1.3" />
<line x1="214.00" y1="263.50" x2="214.00" y2="266.10" stroke="#1a1a1a" stroke-width="0.9" />
<line x1="164.20" y1="189.60" x2="167.60" y2="189.60" stroke="#1a1a1a" stroke-width="1.0" />
<text x="161.00" y="192.80" font-size="8.6" text-anchor="end" textLength="7.70" lengthAdjust="spacingAndGlyphs" >20</text>
<line x1="164.20" y1="207.80" x2="167.60" y2="207.80" stroke="#1a1a1a" stroke-width="1.0" />
<text x="161.00" y="211.00" font-size="8.6" text-anchor="end" textLength="7.70" lengthAdjust="spacingAndGlyphs" >15</text>
<line x1="164.20" y1="226.10" x2="167.60" y2="226.10" stroke="#1a1a1a" stroke-width="1.0" />
<text x="161.00" y="229.30" font-size="8.6" text-anchor="end" textLength="7.70" lengthAdjust="spacingAndGlyphs" >10</text>
<line x1="164.20" y1="244.40" x2="167.60" y2="244.40" stroke="#1a1a1a" stroke-width="1.0" />
<text x="161.00" y="247.60" font-size="8.6" text-anchor="end" textLength="4.20" lengthAdjust="spacingAndGlyphs" >5</text>
<line x1="164.20" y1="263.00" x2="167.60" y2="263.00" stroke="#1a1a1a" stroke-width="1.0" />
<text x="161.00" y="266.20" font-size="8.6" text-anchor="end" textLength="4.20" lengthAdjust="spacingAndGlyphs" >0</text>
<text x="147.10" y="224.75" font-size="10.0" text-anchor="middle" textLength="37.10" lengthAdjust="spacingAndGlyphs" transform="rotate(-90 147.10 224.75)" >HGB (g/dL)</text>
<text x="166.70" y="275.50" font-size="8.9" text-anchor="end" textLength="12.80" lengthAdjust="spacingAndGlyphs" >LPS</text>
<line x1="179.85" y1="272.80" x2="184.15" y2="272.80" stroke="#1a1a1a" stroke-width="0.85" />
<line x1="201.35" y1="272.80" x2="205.65" y2="272.80" stroke="#1a1a1a" stroke-width="0.85" />
<line x1="203.50" y1="270.65" x2="203.50" y2="274.95" stroke="#1a1a1a" stroke-width="0.85" />
<line x1="222.75" y1="272.80" x2="227.05" y2="272.80" stroke="#1a1a1a" stroke-width="0.85" />
<line x1="244.45" y1="272.80" x2="248.75" y2="272.80" stroke="#1a1a1a" stroke-width="0.85" />
<line x1="246.60" y1="270.65" x2="246.60" y2="274.95" stroke="#1a1a1a" stroke-width="0.85" />
<line x1="178.50" y1="279.60" x2="207.40" y2="279.60" stroke="#1a1a1a" stroke-width="1.1" />
<line x1="221.50" y1="279.60" x2="250.80" y2="279.60" stroke="#1a1a1a" stroke-width="1.1" />
<text x="193.35" y="290.90" font-size="10.2" text-anchor="middle" textLength="10.70" lengthAdjust="spacingAndGlyphs" >WT</text>
<text x="236.60" y="290.90" font-size="10.2" text-anchor="middle" textLength="28.40" lengthAdjust="spacingAndGlyphs" >Rage KO</text>
<rect x="305.90" y="216.80" width="14.40" height="46.30" fill="#86a6c6" stroke="#7898ba" stroke-width="0.6" />
<rect x="327.30" y="232.70" width="14.50" height="30.40" fill="#9ddaa0" stroke="#8ccf90" stroke-width="0.6" />
<rect x="348.30" y="218.30" width="14.50" height="44.80" fill="#aa92bc" stroke="#9a82ae" stroke-width="0.6" />
<rect x="369.70" y="232.70" width="14.50" height="30.40" fill="#e18692" stroke="#d87684" stroke-width="0.6" />
<polyline points="312.40,164.30 312.40,136.50 376.80,136.50 376.80,148.40" fill="none" stroke="#1a1a1a" stroke-width="1.0"/>
<text x="344.00" y="133.20" font-size="8.4" text-anchor="middle" textLength="8.30" lengthAdjust="spacingAndGlyphs" >ns</text>
<polyline points="333.40,157.00 333.40,152.40 376.80,152.40 376.80,179.80" fill="none" stroke="#1a1a1a" stroke-width="1.0"/>
<text x="354.90" y="149.30" font-size="8.4" text-anchor="middle" textLength="8.30" lengthAdjust="spacingAndGlyphs" >ns</text>
<polyline points="312.40,180.70 312.40,168.30 354.70,168.30 354.70,180.70" fill="none" stroke="#1a1a1a" stroke-width="1.0"/>
<text x="333.70" y="165.20" font-size="8.4" text-anchor="middle" textLength="8.30" lengthAdjust="spacingAndGlyphs" >ns</text>
<polyline points="312.40,188.20 312.40,184.40 332.50,184.40 332.50,208.30" fill="none" stroke="#1a1a1a" stroke-width="1.0"/>
<path d="M322.40,178.25L322.40,181.35M321.06,179.03L323.74,180.58M323.74,179.03L321.06,180.58" stroke="#1a1a1a" stroke-width="0.8" fill="none"/>
<polyline points="335.20,208.30 335.20,184.40 353.80,184.40 353.80,199.20" fill="none" stroke="#1a1a1a" stroke-width="1.0"/>
<text x="344.30" y="180.70" font-size="8.4" text-anchor="middle" textLength="8.30" lengthAdjust="spacingAndGlyphs" >ns</text>
<polyline points="356.20,199.20 356.20,184.40 376.80,184.40 376.80,210.70" fill="none" stroke="#1a1a1a" stroke-width="1.0"/>
<text x="366.20" y="180.70" font-size="8.4" text-anchor="middle" textLength="8.30" lengthAdjust="spacingAndGlyphs" >ns</text>
<line x1="312.90" y1="211.40" x2="312.90" y2="221.10" stroke="#1a1a1a" stroke-width="1.0" />
<line x1="309.10" y1="211.40" x2="316.70" y2="211.40" stroke="#1a1a1a" stroke-width="1.0" />
<line x1="309.10" y1="221.10" x2="316.70" y2="221.10" stroke="#1a1a1a" stroke-width="1.0" />
<line x1="333.90" y1="229.30" x2="333.90" y2="234.80" stroke="#1a1a1a" stroke-width="1.0" />
<line x1="330.10" y1="229.30" x2="337.70" y2="229.30" stroke="#1a1a1a" stroke-width="1.0" />
<line x1="330.10" y1="234.80" x2="337.70" y2="234.80" stroke="#1a1a1a" stroke-width="1.0" />
<line x1="356.70" y1="211.00" x2="356.70" y2="225.30" stroke="#1a1a1a" stroke-width="1.0" />
<line x1="352.90" y1="211.00" x2="360.50" y2="211.00" stroke="#1a1a1a" stroke-width="1.0" />
<line x1="352.90" y1="225.30" x2="360.50" y2="225.30" stroke="#1a1a1a" stroke-width="1.0" />
<line x1="377.20" y1="227.90" x2="377.20" y2="236.60" stroke="#1a1a1a" stroke-width="1.0" />
<line x1="373.40" y1="227.90" x2="381.00" y2="227.90" stroke="#1a1a1a" stroke-width="1.0" />
<line x1="373.40" y1="236.60" x2="381.00" y2="236.60" stroke="#1a1a1a" stroke-width="1.0" />
<circle cx="312.90" cy="193.20" r="1.7" fill="#0b4a8b"/>
<circle cx="312.90" cy="201.60" r="1.7" fill="#0b4a8b"/>
<circle cx="306.90" cy="204.30" r="1.7" fill="#0b4a8b"/>
<circle cx="319.10" cy="207.80" r="1.7" fill="#0b4a8b"/>
<circle cx="312.90" cy="207.80" r="1.7" fill="#0b4a8b"/>
<circle cx="312.90" cy="214.70" r="1.7" fill="#0b4a8b"/>
<circle cx="312.90" cy="227.90" r="1.7" fill="#0b4a8b"/>
<circle cx="312.90" cy="232.40" r="1.7" fill="#0b4a8b"/>
<circle cx="306.90" cy="235.20" r="1.7" fill="#0b4a8b"/>
<circle cx="319.10" cy="235.20" r="1.7" fill="#0b4a8b"/>
<circle cx="333.90" cy="212.50" r="1.7" fill="#27b53c"/>
<circle cx="333.90" cy="226.00" r="1.7" fill="#27b53c"/>
<circle cx="330.60" cy="234.80" r="1.7" fill="#27b53c"/>
<circle cx="336.70" cy="234.40" r="1.7" fill="#27b53c"/>
<circle cx="328.40" cy="236.60" r="1.7" fill="#27b53c"/>
<circle cx="340.30" cy="235.90" r="1.7" fill="#27b53c"/>
<circle cx="331.50" cy="239.90" r="1.7" fill="#27b53c"/>
<circle cx="336.10" cy="239.40" r="1.7" fill="#27b53c"/>
<circle cx="349.40" cy="203.40" r="1.7" fill="#4b1068"/>
<circle cx="349.40" cy="207.80" r="1.7" fill="#4b1068"/>
<circle cx="361.70" cy="207.00" r="1.7" fill="#4b1068"/>
<circle cx="349.40" cy="235.20" r="1.7" fill="#4b1068"/>
<circle cx="361.70" cy="235.20" r="1.7" fill="#4b1068"/>
<circle cx="377.20" cy="214.30" r="1.7" fill="#d0112b"/>
<circle cx="377.20" cy="231.70" r="1.7" fill="#d0112b"/>
<circle cx="370.80" cy="238.80" r="1.7" fill="#d0112b"/>
<circle cx="377.20" cy="237.00" r="1.7" fill="#d0112b"/>
<circle cx="383.20" cy="238.10" r="1.7" fill="#d0112b"/>
<line x1="298.10" y1="184.00" x2="298.10" y2="264.20" stroke="#1a1a1a" stroke-width="1.3" />
<line x1="297.50" y1="263.60" x2="391.00" y2="263.60" stroke="#1a1a1a" stroke-width="1.3" />
<line x1="345.20" y1="263.60" x2="345.20" y2="266.20" stroke="#1a1a1a" stroke-width="0.9" />
<line x1="294.70" y1="188.20" x2="298.10" y2="188.20" stroke="#1a1a1a" stroke-width="1.0" />
<text x="291.50" y="191.40" font-size="8.6" text-anchor="end" textLength="7.70" lengthAdjust="spacingAndGlyphs" >60</text>
<line x1="294.70" y1="213.40" x2="298.10" y2="213.40" stroke="#1a1a1a" stroke-width="1.0" />
<text x="291.50" y="216.60" font-size="8.6" text-anchor="end" textLength="7.70" lengthAdjust="spacingAndGlyphs" >40</text>
<line x1="294.70" y1="238.50" x2="298.10" y2="238.50" stroke="#1a1a1a" stroke-width="1.0" />
<text x="291.50" y="241.70" font-size="8.6" text-anchor="end" textLength="7.70" lengthAdjust="spacingAndGlyphs" >20</text>
<line x1="294.70" y1="263.10" x2="298.10" y2="263.10" stroke="#1a1a1a" stroke-width="1.0" />
<text x="291.50" y="266.30" font-size="8.6" text-anchor="end" textLength="4.20" lengthAdjust="spacingAndGlyphs" >0</text>
<text x="278.10" y="225.05" font-size="10.0" text-anchor="middle" textLength="27.90" lengthAdjust="spacingAndGlyphs" transform="rotate(-90 278.10 225.05)" >HCT (%)</text>
<text x="297.60" y="275.50" font-size="8.9" text-anchor="end" textLength="12.80" lengthAdjust="spacingAndGlyphs" >LPS</text>
<line x1="309.55" y1="272.80" x2="313.85" y2="272.80" stroke="#1a1a1a" stroke-width="0.85" />
<line x1="330.75" y1="272.80" x2="335.05" y2="272.80" stroke="#1a1a1a" stroke-width="0.85" />
<line x1="332.90" y1="270.65" x2="332.90" y2="274.95" stroke="#1a1a1a" stroke-width="0.85" />
<line x1="353.05" y1="272.80" x2="357.35" y2="272.80" stroke="#1a1a1a" stroke-width="0.85" />
<line x1="374.25" y1="272.80" x2="378.55" y2="272.80" stroke="#1a1a1a" stroke-width="0.85" />
<line x1="376.40" y1="270.65" x2="376.40" y2="274.95" stroke="#1a1a1a" stroke-width="0.85" />
<line x1="308.50" y1="279.60" x2="336.90" y2="279.60" stroke="#1a1a1a" stroke-width="1.1" />
<line x1="351.90" y1="279.60" x2="381.20" y2="279.60" stroke="#1a1a1a" stroke-width="1.1" />
<text x="323.35" y="290.90" font-size="10.2" text-anchor="middle" textLength="10.70" lengthAdjust="spacingAndGlyphs" >WT</text>
<text x="366.90" y="290.90" font-size="10.2" text-anchor="middle" textLength="28.60" lengthAdjust="spacingAndGlyphs" >Rage KO</text>
<rect x="435.30" y="225.40" width="13.50" height="38.00" fill="#86a6c6" stroke="#7898ba" stroke-width="0.6" />
<rect x="454.90" y="235.10" width="13.60" height="28.30" fill="#9ddaa0" stroke="#8ccf90" stroke-width="0.6" />
<rect x="474.30" y="226.80" width="13.40" height="36.60" fill="#aa92bc" stroke="#9a82ae" stroke-width="0.6" />
<rect x="493.80" y="237.80" width="13.50" height="25.60" fill="#e18692" stroke="#d87684" stroke-width="0.6" />
<polyline points="442.40,180.60 442.40,155.50 500.40,155.50 500.40,165.60" fill="none" stroke="#1a1a1a" stroke-width="1.0"/>
<text x="471.00" y="151.90" font-size="8.4" text-anchor="middle" textLength="8.30" lengthAdjust="spacingAndGlyphs" >ns</text>
<polyline points="461.00,173.80 461.00,169.80 500.40,169.80 500.40,195.20" fill="none" stroke="#1a1a1a" stroke-width="1.0"/>
<text x="480.70" y="166.50" font-size="8.4" text-anchor="middle" textLength="8.30" lengthAdjust="spacingAndGlyphs" >ns</text>
<polyline points="442.40,194.80 442.40,184.40 480.40,184.40 480.40,194.80" fill="none" stroke="#1a1a1a" stroke-width="1.0"/>
<text x="461.20" y="180.60" font-size="8.4" text-anchor="middle" textLength="8.30" lengthAdjust="spacingAndGlyphs" >ns</text>
<polyline points="442.40,200.00 442.40,198.80 459.70,198.80 459.70,215.60" fill="none" stroke="#1a1a1a" stroke-width="1.0"/>
<text x="451.10" y="194.80" font-size="8.4" text-anchor="middle" textLength="8.30" lengthAdjust="spacingAndGlyphs" >ns</text>
<polyline points="462.50,215.60 462.50,198.80 479.40,198.80 479.40,211.90" fill="none" stroke="#1a1a1a" stroke-width="1.0"/>
<text x="471.00" y="194.80" font-size="8.4" text-anchor="middle" textLength="8.30" lengthAdjust="spacingAndGlyphs" >ns</text>
<polyline points="482.00,211.90 482.00,198.80 500.40,198.80 500.40,220.70" fill="none" stroke="#1a1a1a" stroke-width="1.0"/>
<text x="490.80" y="194.80" font-size="8.4" text-anchor="middle" textLength="8.30" lengthAdjust="spacingAndGlyphs" >ns</text>
<line x1="442.00" y1="221.40" x2="442.00" y2="228.70" stroke="#1a1a1a" stroke-width="1.0" />
<line x1="438.20" y1="221.40" x2="445.80" y2="221.40" stroke="#1a1a1a" stroke-width="1.0" />
<line x1="438.20" y1="228.70" x2="445.80" y2="228.70" stroke="#1a1a1a" stroke-width="1.0" />
<line x1="461.50" y1="234.80" x2="461.50" y2="238.40" stroke="#1a1a1a" stroke-width="1.0" />
<line x1="457.70" y1="234.80" x2="465.30" y2="234.80" stroke="#1a1a1a" stroke-width="1.0" />
<line x1="457.70" y1="238.40" x2="465.30" y2="238.40" stroke="#1a1a1a" stroke-width="1.0" />
<line x1="481.30" y1="220.10" x2="481.30" y2="232.90" stroke="#1a1a1a" stroke-width="1.0" />
<line x1="477.50" y1="220.10" x2="485.10" y2="220.10" stroke="#1a1a1a" stroke-width="1.0" />
<line x1="477.50" y1="232.90" x2="485.10" y2="232.90" stroke="#1a1a1a" stroke-width="1.0" />
<line x1="500.30" y1="233.50" x2="500.30" y2="242.10" stroke="#1a1a1a" stroke-width="1.0" />
<line x1="496.50" y1="233.50" x2="504.10" y2="233.50" stroke="#1a1a1a" stroke-width="1.0" />
<line x1="496.50" y1="242.10" x2="504.10" y2="242.10" stroke="#1a1a1a" stroke-width="1.0" />
<circle cx="442.00" cy="206.40" r="1.7" fill="#0b4a8b"/>
<circle cx="437.40" cy="215.90" r="1.7" fill="#0b4a8b"/>
<circle cx="442.00" cy="217.00" r="1.7" fill="#0b4a8b"/>
<circle cx="447.30" cy="217.40" r="1.7" fill="#0b4a8b"/>
<circle cx="439.60" cy="217.40" r="1.7" fill="#0b4a8b"/>
<circle cx="442.00" cy="225.10" r="1.7" fill="#0b4a8b"/>
<circle cx="442.00" cy="228.70" r="1.7" fill="#0b4a8b"/>
<circle cx="442.00" cy="233.30" r="1.7" fill="#0b4a8b"/>
<circle cx="437.40" cy="237.90" r="1.7" fill="#0b4a8b"/>
<circle cx="447.30" cy="239.30" r="1.7" fill="#0b4a8b"/>
<circle cx="437.40" cy="240.20" r="1.7" fill="#0b4a8b"/>
<circle cx="461.50" cy="219.20" r="1.7" fill="#27b53c"/>
<circle cx="461.50" cy="231.70" r="1.7" fill="#27b53c"/>
<circle cx="456.00" cy="237.90" r="1.7" fill="#27b53c"/>
<circle cx="461.50" cy="237.90" r="1.7" fill="#27b53c"/>
<circle cx="467.40" cy="237.90" r="1.7" fill="#27b53c"/>
<circle cx="456.00" cy="243.30" r="1.7" fill="#27b53c"/>
<circle cx="461.50" cy="243.90" r="1.7" fill="#27b53c"/>
<circle cx="467.40" cy="243.00" r="1.7" fill="#27b53c"/>
<circle cx="461.50" cy="240.80" r="1.7" fill="#27b53c"/>
<circle cx="475.80" cy="217.40" r="1.7" fill="#4b1068"/>
<circle cx="481.30" cy="215.60" r="1.7" fill="#4b1068"/>
<circle cx="486.20" cy="217.40" r="1.7" fill="#4b1068"/>
<circle cx="483.10" cy="240.20" r="1.7" fill="#4b1068"/>
<circle cx="478.00" cy="243.30" r="1.7" fill="#4b1068"/>
<circle cx="500.30" cy="223.40" r="1.7" fill="#d0112b"/>
<circle cx="500.30" cy="237.10" r="1.7" fill="#d0112b"/>
<circle cx="495.30" cy="243.00" r="1.7" fill="#d0112b"/>
<circle cx="500.30" cy="242.10" r="1.7" fill="#d0112b"/>
<circle cx="505.00" cy="243.00" r="1.7" fill="#d0112b"/>
<line x1="429.20" y1="189.00" x2="429.20" y2="264.50" stroke="#1a1a1a" stroke-width="1.3" />
<line x1="428.60" y1="263.90" x2="514.20" y2="263.90" stroke="#1a1a1a" stroke-width="1.3" />
<line x1="471.20" y1="263.90" x2="471.20" y2="266.50" stroke="#1a1a1a" stroke-width="0.9" />
<line x1="425.80" y1="194.00" x2="429.20" y2="194.00" stroke="#1a1a1a" stroke-width="1.0" />
<text x="422.60" y="197.20" font-size="8.6" text-anchor="end" textLength="7.70" lengthAdjust="spacingAndGlyphs" >15</text>
<line x1="425.80" y1="217.40" x2="429.20" y2="217.40" stroke="#1a1a1a" stroke-width="1.0" />
<text x="422.60" y="220.60" font-size="8.6" text-anchor="end" textLength="7.70" lengthAdjust="spacingAndGlyphs" >10</text>
<line x1="425.80" y1="240.60" x2="429.20" y2="240.60" stroke="#1a1a1a" stroke-width="1.0" />
<text x="422.60" y="243.80" font-size="8.6" text-anchor="end" textLength="4.20" lengthAdjust="spacingAndGlyphs" >5</text>
<line x1="425.80" y1="263.40" x2="429.20" y2="263.40" stroke="#1a1a1a" stroke-width="1.0" />
<text x="422.60" y="266.60" font-size="8.6" text-anchor="end" textLength="4.20" lengthAdjust="spacingAndGlyphs" >0</text>
<text x="409.50" y="224.90" font-size="10.0" text-anchor="middle" textLength="44.60" lengthAdjust="spacingAndGlyphs" transform="rotate(-90 409.50 224.90)" >RBC (10<tspan dy="-3.2" font-size="6.80">6</tspan><tspan dy="3.2">/μL)</tspan></text>
<text x="431.00" y="275.70" font-size="8.9" text-anchor="end" textLength="12.80" lengthAdjust="spacingAndGlyphs" >LPS</text>
<line x1="440.15" y1="273.00" x2="444.45" y2="273.00" stroke="#1a1a1a" stroke-width="0.85" />
<line x1="459.05" y1="273.00" x2="463.35" y2="273.00" stroke="#1a1a1a" stroke-width="0.85" />
<line x1="461.20" y1="270.85" x2="461.20" y2="275.15" stroke="#1a1a1a" stroke-width="0.85" />
<line x1="478.85" y1="273.00" x2="483.15" y2="273.00" stroke="#1a1a1a" stroke-width="0.85" />
<line x1="498.05" y1="273.00" x2="502.35" y2="273.00" stroke="#1a1a1a" stroke-width="0.85" />
<line x1="500.20" y1="270.85" x2="500.20" y2="275.15" stroke="#1a1a1a" stroke-width="0.85" />
<line x1="438.80" y1="279.60" x2="464.40" y2="279.60" stroke="#1a1a1a" stroke-width="1.1" />
<line x1="477.30" y1="279.60" x2="504.30" y2="279.60" stroke="#1a1a1a" stroke-width="1.1" />
<text x="451.90" y="290.90" font-size="10.2" text-anchor="middle" textLength="10.80" lengthAdjust="spacingAndGlyphs" >WT</text>
<text x="491.15" y="290.90" font-size="10.2" text-anchor="middle" textLength="28.30" lengthAdjust="spacingAndGlyphs" >Rage KO</text>
<rect x="40.30" y="381.90" width="13.10" height="57.60" fill="#86a6c6" stroke="#7898ba" stroke-width="0.6" />
<rect x="60.10" y="381.70" width="13.10" height="57.80" fill="#9ddaa0" stroke="#8ccf90" stroke-width="0.6" />
<rect x="79.60" y="380.40" width="13.10" height="59.10" fill="#aa92bc" stroke="#9a82ae" stroke-width="0.6" />
<rect x="99.30" y="382.60" width="13.20" height="56.90" fill="#e18692" stroke="#d87684" stroke-width="0.6" />
<polyline points="46.40,346.70 46.40,321.10 105.40,321.10 105.40,332.40" fill="none" stroke="#1a1a1a" stroke-width="1.0"/>
<text x="76.00" y="317.40" font-size="8.4" text-anchor="middle" textLength="8.30" lengthAdjust="spacingAndGlyphs" >ns</text>
<polyline points="66.20,340.10 66.20,336.40 105.40,336.40 105.40,360.70" fill="none" stroke="#1a1a1a" stroke-width="1.0"/>
<text x="85.70" y="332.00" font-size="8.4" text-anchor="middle" textLength="8.30" lengthAdjust="spacingAndGlyphs" >ns</text>
<polyline points="46.40,360.70 46.40,350.70 86.30,350.70 86.30,360.70" fill="none" stroke="#1a1a1a" stroke-width="1.0"/>
<text x="66.20" y="347.00" font-size="8.4" text-anchor="middle" textLength="8.30" lengthAdjust="spacingAndGlyphs" >ns</text>
<polyline points="46.40,371.30 46.40,364.90 65.30,364.90 65.30,375.00" fill="none" stroke="#1a1a1a" stroke-width="1.0"/>
<text x="55.90" y="362.00" font-size="8.4" text-anchor="middle" textLength="8.30" lengthAdjust="spacingAndGlyphs" >ns</text>
<polyline points="68.00,375.00 68.00,364.90 84.80,364.90 84.80,369.10" fill="none" stroke="#1a1a1a" stroke-width="1.0"/>
<text x="76.20" y="362.00" font-size="8.4" text-anchor="middle" textLength="8.30" lengthAdjust="spacingAndGlyphs" >ns</text>
<polyline points="87.00,369.10 87.00,364.90 105.40,364.90 105.40,376.40" fill="none" stroke="#1a1a1a" stroke-width="1.0"/>
<text x="96.10" y="362.00" font-size="8.4" text-anchor="middle" textLength="8.30" lengthAdjust="spacingAndGlyphs" >ns</text>
<line x1="86.00" y1="377.90" x2="86.00" y2="380.60" stroke="#1a1a1a" stroke-width="1.0" />
<line x1="82.20" y1="377.90" x2="89.80" y2="377.90" stroke="#1a1a1a" stroke-width="1.0" />
<line x1="82.20" y1="380.60" x2="89.80" y2="380.60" stroke="#1a1a1a" stroke-width="1.0" />
<circle cx="47.00" cy="376.40" r="1.7" fill="#0b4a8b"/>
<circle cx="43.20" cy="379.70" r="1.7" fill="#0b4a8b"/>
<circle cx="47.00" cy="380.10" r="1.7" fill="#0b4a8b"/>
<circle cx="48.30" cy="380.60" r="1.7" fill="#0b4a8b"/>
<circle cx="44.60" cy="381.60" r="1.7" fill="#0b4a8b"/>
<circle cx="50.10" cy="381.60" r="1.7" fill="#0b4a8b"/>
<circle cx="42.40" cy="381.90" r="1.7" fill="#0b4a8b"/>
<circle cx="52.30" cy="384.70" r="1.7" fill="#0b4a8b"/>
<circle cx="51.90" cy="382.80" r="1.7" fill="#0b4a8b"/>
<circle cx="68.00" cy="379.20" r="1.7" fill="#27b53c"/>
<circle cx="61.00" cy="382.30" r="1.7" fill="#27b53c"/>
<circle cx="64.70" cy="382.30" r="1.7" fill="#27b53c"/>
<circle cx="68.00" cy="381.90" r="1.7" fill="#27b53c"/>
<circle cx="70.20" cy="382.80" r="1.7" fill="#27b53c"/>
<circle cx="62.90" cy="384.10" r="1.7" fill="#27b53c"/>
<circle cx="66.20" cy="383.70" r="1.7" fill="#27b53c"/>
<circle cx="69.80" cy="386.50" r="1.7" fill="#27b53c"/>
<circle cx="86.30" cy="372.80" r="1.7" fill="#4b1068"/>
<circle cx="81.20" cy="381.60" r="1.7" fill="#4b1068"/>
<circle cx="85.70" cy="381.90" r="1.7" fill="#4b1068"/>
<circle cx="91.70" cy="382.30" r="1.7" fill="#4b1068"/>
<circle cx="81.70" cy="379.50" r="1.7" fill="#4b1068"/>
<circle cx="100.30" cy="383.40" r="1.7" fill="#d0112b"/>
<circle cx="104.00" cy="381.60" r="1.7" fill="#d0112b"/>
<circle cx="107.60" cy="381.90" r="1.7" fill="#d0112b"/>
<circle cx="110.90" cy="383.70" r="1.7" fill="#d0112b"/>
<circle cx="105.80" cy="382.80" r="1.7" fill="#d0112b"/>
<line x1="34.20" y1="367.30" x2="34.20" y2="440.60" stroke="#1a1a1a" stroke-width="1.3" />
<line x1="33.60" y1="440.00" x2="119.10" y2="440.00" stroke="#1a1a1a" stroke-width="1.3" />
<line x1="76.20" y1="440.00" x2="76.20" y2="442.60" stroke="#1a1a1a" stroke-width="0.9" />
<line x1="30.80" y1="372.80" x2="34.20" y2="372.80" stroke="#1a1a1a" stroke-width="1.0" />
<text x="27.60" y="376.00" font-size="8.6" text-anchor="end" textLength="7.70" lengthAdjust="spacingAndGlyphs" >50</text>
<line x1="30.80" y1="386.10" x2="34.20" y2="386.10" stroke="#1a1a1a" stroke-width="1.0" />
<text x="27.60" y="389.30" font-size="8.6" text-anchor="end" textLength="7.70" lengthAdjust="spacingAndGlyphs" >40</text>
<line x1="30.80" y1="399.30" x2="34.20" y2="399.30" stroke="#1a1a1a" stroke-width="1.0" />
<text x="27.60" y="402.50" font-size="8.6" text-anchor="end" textLength="7.70" lengthAdjust="spacingAndGlyphs" >30</text>
<line x1="30.80" y1="413.00" x2="34.20" y2="413.00" stroke="#1a1a1a" stroke-width="1.0" />
<text x="27.60" y="416.20" font-size="8.6" text-anchor="end" textLength="7.70" lengthAdjust="spacingAndGlyphs" >20</text>
<line x1="30.80" y1="426.30" x2="34.20" y2="426.30" stroke="#1a1a1a" stroke-width="1.0" />
<text x="27.60" y="429.50" font-size="8.6" text-anchor="end" textLength="7.70" lengthAdjust="spacingAndGlyphs" >10</text>
<line x1="30.80" y1="439.50" x2="34.20" y2="439.50" stroke="#1a1a1a" stroke-width="1.0" />
<text x="27.60" y="442.70" font-size="8.6" text-anchor="end" textLength="4.20" lengthAdjust="spacingAndGlyphs" >0</text>
<text x="14.40" y="406.20" font-size="10.0" text-anchor="middle" textLength="28.40" lengthAdjust="spacingAndGlyphs" transform="rotate(-90 14.40 406.20)" >MCV (fL)</text>
<text x="34.30" y="452.70" font-size="8.9" text-anchor="end" textLength="12.80" lengthAdjust="spacingAndGlyphs" >LPS</text>
<line x1="44.75" y1="450.00" x2="49.05" y2="450.00" stroke="#1a1a1a" stroke-width="0.85" />
<line x1="63.95" y1="450.00" x2="68.25" y2="450.00" stroke="#1a1a1a" stroke-width="0.85" />
<line x1="66.10" y1="447.85" x2="66.10" y2="452.15" stroke="#1a1a1a" stroke-width="0.85" />
<line x1="83.55" y1="450.00" x2="87.85" y2="450.00" stroke="#1a1a1a" stroke-width="0.85" />
<line x1="102.95" y1="450.00" x2="107.25" y2="450.00" stroke="#1a1a1a" stroke-width="0.85" />
<line x1="105.10" y1="447.85" x2="105.10" y2="452.15" stroke="#1a1a1a" stroke-width="0.85" />
<line x1="44.20" y1="455.90" x2="70.50" y2="455.90" stroke="#1a1a1a" stroke-width="1.1" />
<line x1="82.70" y1="455.90" x2="110.40" y2="455.90" stroke="#1a1a1a" stroke-width="1.1" />
<text x="56.65" y="466.70" font-size="10.2" text-anchor="middle" textLength="9.90" lengthAdjust="spacingAndGlyphs" >WT</text>
<text x="96.30" y="466.70" font-size="10.2" text-anchor="middle" textLength="28.20" lengthAdjust="spacingAndGlyphs" >Rage KO</text>
<rect x="173.50" y="384.00" width="13.50" height="56.00" fill="#86a6c6" stroke="#7898ba" stroke-width="0.6" />
<rect x="193.10" y="390.40" width="13.30" height="49.60" fill="#9ddaa0" stroke="#8ccf90" stroke-width="0.6" />
<rect x="212.40" y="377.30" width="13.10" height="62.70" fill="#aa92bc" stroke="#9a82ae" stroke-width="0.6" />
<rect x="232.00" y="390.40" width="13.10" height="49.60" fill="#e18692" stroke="#d87684" stroke-width="0.6" />
<polyline points="180.50,336.20 180.50,312.40 238.60,312.40 238.60,323.70" fill="none" stroke="#1a1a1a" stroke-width="1.0"/>
<text x="208.50" y="310.00" font-size="8.4" text-anchor="middle" textLength="8.30" lengthAdjust="spacingAndGlyphs" >ns</text>
<polyline points="199.30,331.00 199.30,327.00 238.60,327.00 238.60,358.10" fill="none" stroke="#1a1a1a" stroke-width="1.0"/>
<text x="218.90" y="323.40" font-size="8.4" text-anchor="middle" textLength="8.30" lengthAdjust="spacingAndGlyphs" >ns</text>
<polyline points="180.50,364.00 180.50,340.60 219.30,340.60 219.30,345.30" fill="none" stroke="#1a1a1a" stroke-width="1.0"/>
<path d="M195.85,334.45L195.85,337.55M194.51,335.23L197.19,336.77M197.19,335.23L194.51,336.77M199.70,334.45L199.70,337.55M198.36,335.23L201.04,336.77M201.04,335.23L198.36,336.77M203.55,334.45L203.55,337.55M202.21,335.23L204.89,336.77M204.89,335.23L202.21,336.77" stroke="#1a1a1a" stroke-width="0.8" fill="none"/>
<polyline points="199.70,363.00 199.70,353.30 218.50,353.30 218.50,357.50" fill="none" stroke="#1a1a1a" stroke-width="1.0"/>
<path d="M203.42,347.15L203.42,350.25M202.08,347.93L204.77,349.47M204.77,347.93L202.08,349.47M207.27,347.15L207.27,350.25M205.93,347.93L208.62,349.47M208.62,347.93L205.93,349.47M211.12,347.15L211.12,350.25M209.78,347.93L212.47,349.47M212.47,347.93L209.78,349.47M214.97,347.15L214.97,350.25M213.63,347.93L216.32,349.47M216.32,347.93L213.63,349.47" stroke="#1a1a1a" stroke-width="0.8" fill="none"/>
<polyline points="180.50,374.60 180.50,367.60 199.20,367.60 199.20,381.90" fill="none" stroke="#1a1a1a" stroke-width="1.0"/>
<path d="M188.07,361.45L188.07,364.55M186.73,362.23L189.42,363.77M189.42,362.23L186.73,363.77M191.92,361.45L191.92,364.55M190.58,362.23L193.27,363.77M193.27,362.23L190.58,363.77" stroke="#1a1a1a" stroke-width="0.8" fill="none"/>
<polyline points="218.50,371.30 218.50,367.60 238.60,367.60 238.60,379.20" fill="none" stroke="#1a1a1a" stroke-width="1.0"/>
<path d="M222.62,361.45L222.62,364.55M221.28,362.23L223.97,363.77M223.97,362.23L221.28,363.77M226.47,361.45L226.47,364.55M225.13,362.23L227.82,363.77M227.82,362.23L225.13,363.77M230.32,361.45L230.32,364.55M228.98,362.23L231.67,363.77M231.67,362.23L228.98,363.77M234.18,361.45L234.18,364.55M232.83,362.23L235.52,363.77M235.52,362.23L232.83,363.77" stroke="#1a1a1a" stroke-width="0.8" fill="none"/>
<line x1="180.20" y1="382.50" x2="180.20" y2="386.50" stroke="#1a1a1a" stroke-width="1.0" />
<line x1="176.40" y1="382.50" x2="184.00" y2="382.50" stroke="#1a1a1a" stroke-width="1.0" />
<line x1="176.40" y1="386.50" x2="184.00" y2="386.50" stroke="#1a1a1a" stroke-width="1.0" />
<line x1="199.00" y1="388.50" x2="199.00" y2="391.50" stroke="#1a1a1a" stroke-width="1.0" />
<line x1="195.20" y1="388.50" x2="202.80" y2="388.50" stroke="#1a1a1a" stroke-width="1.0" />
<line x1="195.20" y1="391.50" x2="202.80" y2="391.50" stroke="#1a1a1a" stroke-width="1.0" />
<line x1="218.00" y1="376.60" x2="218.00" y2="378.60" stroke="#1a1a1a" stroke-width="1.0" />
<line x1="214.20" y1="376.60" x2="221.80" y2="376.60" stroke="#1a1a1a" stroke-width="1.0" />
<line x1="214.20" y1="378.60" x2="221.80" y2="378.60" stroke="#1a1a1a" stroke-width="1.0" />
<line x1="237.70" y1="387.00" x2="237.70" y2="391.40" stroke="#1a1a1a" stroke-width="1.0" />
<line x1="233.90" y1="387.00" x2="241.50" y2="387.00" stroke="#1a1a1a" stroke-width="1.0" />
<line x1="233.90" y1="391.40" x2="241.50" y2="391.40" stroke="#1a1a1a" stroke-width="1.0" />
<circle cx="180.20" cy="379.30" r="1.7" fill="#0b4a8b"/>
<circle cx="176.50" cy="382.00" r="1.7" fill="#0b4a8b"/>
<circle cx="184.00" cy="382.00" r="1.7" fill="#0b4a8b"/>
<circle cx="178.00" cy="385.00" r="1.7" fill="#0b4a8b"/>
<circle cx="182.00" cy="385.50" r="1.7" fill="#0b4a8b"/>
<circle cx="176.00" cy="387.00" r="1.7" fill="#0b4a8b"/>
<circle cx="185.00" cy="387.00" r="1.7" fill="#0b4a8b"/>
<circle cx="180.20" cy="388.00" r="1.7" fill="#0b4a8b"/>
<circle cx="178.00" cy="391.00" r="1.7" fill="#0b4a8b"/>
<circle cx="183.00" cy="390.60" r="1.7" fill="#0b4a8b"/>
<circle cx="198.80" cy="385.60" r="1.7" fill="#27b53c"/>
<circle cx="194.20" cy="387.40" r="1.7" fill="#27b53c"/>
<circle cx="201.50" cy="388.30" r="1.7" fill="#27b53c"/>
<circle cx="197.00" cy="389.60" r="1.7" fill="#27b53c"/>
<circle cx="194.20" cy="392.00" r="1.7" fill="#27b53c"/>
<circle cx="199.70" cy="392.50" r="1.7" fill="#27b53c"/>
<circle cx="203.40" cy="392.90" r="1.7" fill="#27b53c"/>
<circle cx="205.20" cy="391.40" r="1.7" fill="#27b53c"/>
<circle cx="214.50" cy="375.00" r="1.7" fill="#4b1068"/>
<circle cx="214.50" cy="378.00" r="1.7" fill="#4b1068"/>
<circle cx="214.50" cy="380.00" r="1.7" fill="#4b1068"/>
<circle cx="217.00" cy="377.50" r="1.7" fill="#4b1068"/>
<circle cx="219.00" cy="378.50" r="1.7" fill="#4b1068"/>
<circle cx="221.50" cy="378.30" r="1.7" fill="#4b1068"/>
<circle cx="224.00" cy="378.50" r="1.7" fill="#4b1068"/>
<circle cx="237.70" cy="383.40" r="1.7" fill="#d0112b"/>
<circle cx="233.00" cy="392.00" r="1.7" fill="#d0112b"/>
<circle cx="235.90" cy="391.40" r="1.7" fill="#d0112b"/>
<circle cx="239.00" cy="391.40" r="1.7" fill="#d0112b"/>
<circle cx="243.20" cy="391.40" r="1.7" fill="#d0112b"/>
<line x1="167.70" y1="372.80" x2="167.70" y2="441.10" stroke="#1a1a1a" stroke-width="1.3" />
<line x1="167.10" y1="440.50" x2="250.90" y2="440.50" stroke="#1a1a1a" stroke-width="1.3" />
<line x1="209.80" y1="440.50" x2="209.80" y2="443.10" stroke="#1a1a1a" stroke-width="0.9" />
<line x1="164.30" y1="377.70" x2="167.70" y2="377.70" stroke="#1a1a1a" stroke-width="1.0" />
<text x="161.10" y="380.90" font-size="8.6" text-anchor="end" textLength="7.70" lengthAdjust="spacingAndGlyphs" >15</text>
<line x1="164.30" y1="398.40" x2="167.70" y2="398.40" stroke="#1a1a1a" stroke-width="1.0" />
<text x="161.10" y="401.60" font-size="8.6" text-anchor="end" textLength="7.70" lengthAdjust="spacingAndGlyphs" >10</text>
<line x1="164.30" y1="419.00" x2="167.70" y2="419.00" stroke="#1a1a1a" stroke-width="1.0" />
<text x="161.10" y="422.20" font-size="8.6" text-anchor="end" textLength="4.20" lengthAdjust="spacingAndGlyphs" >5</text>
<line x1="164.30" y1="440.00" x2="167.70" y2="440.00" stroke="#1a1a1a" stroke-width="1.0" />
<text x="161.10" y="443.20" font-size="8.6" text-anchor="end" textLength="4.20" lengthAdjust="spacingAndGlyphs" >0</text>
<text x="147.30" y="408.95" font-size="10.0" text-anchor="middle" textLength="33.10" lengthAdjust="spacingAndGlyphs" transform="rotate(-90 147.30 408.95)" >MCH (pg)</text>
<text x="166.20" y="452.70" font-size="8.9" text-anchor="end" textLength="12.80" lengthAdjust="spacingAndGlyphs" >LPS</text>
<line x1="177.55" y1="450.00" x2="181.85" y2="450.00" stroke="#1a1a1a" stroke-width="0.85" />
<line x1="197.35" y1="450.00" x2="201.65" y2="450.00" stroke="#1a1a1a" stroke-width="0.85" />
<line x1="199.50" y1="447.85" x2="199.50" y2="452.15" stroke="#1a1a1a" stroke-width="0.85" />
<line x1="216.35" y1="450.00" x2="220.65" y2="450.00" stroke="#1a1a1a" stroke-width="0.85" />
<line x1="235.95" y1="450.00" x2="240.25" y2="450.00" stroke="#1a1a1a" stroke-width="0.85" />
<line x1="238.10" y1="447.85" x2="238.10" y2="452.15" stroke="#1a1a1a" stroke-width="0.85" />
<line x1="177.40" y1="455.90" x2="203.50" y2="455.90" stroke="#1a1a1a" stroke-width="1.1" />
<line x1="215.20" y1="455.90" x2="242.70" y2="455.90" stroke="#1a1a1a" stroke-width="1.1" />
<text x="190.35" y="466.70" font-size="10.2" text-anchor="middle" textLength="10.70" lengthAdjust="spacingAndGlyphs" >WT</text>
<text x="228.90" y="466.70" font-size="10.2" text-anchor="middle" textLength="27.40" lengthAdjust="spacingAndGlyphs" >Rage KO</text>
<rect x="303.50" y="392.20" width="13.50" height="48.70" fill="#86a6c6" stroke="#7898ba" stroke-width="0.6" />
<rect x="321.80" y="397.30" width="13.50" height="43.60" fill="#9ddaa0" stroke="#8ccf90" stroke-width="0.6" />
<rect x="340.10" y="386.70" width="13.10" height="54.20" fill="#aa92bc" stroke="#9a82ae" stroke-width="0.6" />
<rect x="358.30" y="397.30" width="13.10" height="43.60" fill="#e18692" stroke="#d87684" stroke-width="0.6" />
<polyline points="310.20,360.60 310.20,338.70 364.40,338.70 364.40,348.70" fill="none" stroke="#1a1a1a" stroke-width="1.0"/>
<text x="337.40" y="335.60" font-size="8.4" text-anchor="middle" textLength="8.30" lengthAdjust="spacingAndGlyphs" >ns</text>
<polyline points="328.40,356.00 328.40,352.40 364.40,352.40 364.40,356.40" fill="none" stroke="#1a1a1a" stroke-width="1.0"/>
<text x="346.50" y="349.10" font-size="8.4" text-anchor="middle" textLength="8.30" lengthAdjust="spacingAndGlyphs" >ns</text>
<polyline points="310.20,374.30 310.20,364.80 346.20,364.80 346.20,368.80" fill="none" stroke="#1a1a1a" stroke-width="1.0"/>
<path d="M323.65,358.65L323.65,361.75M322.31,359.43L324.99,360.97M324.99,359.43L322.31,360.97M327.50,358.65L327.50,361.75M326.16,359.43L328.84,360.97M328.84,359.43L326.16,360.97M331.35,358.65L331.35,361.75M330.01,359.43L332.69,360.97M332.69,359.43L330.01,360.97" stroke="#1a1a1a" stroke-width="0.8" fill="none"/>
<polyline points="347.40,368.80 347.40,364.80 364.40,364.80 364.40,389.00" fill="none" stroke="#1a1a1a" stroke-width="1.0"/>
<path d="M350.03,358.65L350.03,361.75M348.68,359.43L351.37,360.97M351.37,359.43L348.68,360.97M353.88,358.65L353.88,361.75M352.53,359.43L355.22,360.97M355.22,359.43L352.53,360.97M357.73,358.65L357.73,361.75M356.38,359.43L359.07,360.97M359.07,359.43L356.38,360.97M361.58,358.65L361.58,361.75M360.23,359.43L362.92,360.97M362.92,359.43L360.23,360.97" stroke="#1a1a1a" stroke-width="0.8" fill="none"/>
<polyline points="310.20,385.30 310.20,377.40 327.90,377.40 327.90,389.90" fill="none" stroke="#1a1a1a" stroke-width="1.0"/>
<path d="M318.70,371.25L318.70,374.35M317.36,372.02L320.04,373.57M320.04,372.02L317.36,373.57" stroke="#1a1a1a" stroke-width="0.8" fill="none"/>
<polyline points="329.30,389.90 329.30,377.40 346.50,377.40 346.50,381.60" fill="none" stroke="#1a1a1a" stroke-width="1.0"/>
<path d="M331.62,371.25L331.62,374.35M330.28,372.02L332.97,373.57M332.97,372.02L330.28,373.57M335.48,371.25L335.48,374.35M334.13,372.02L336.82,373.57M336.82,372.02L334.13,373.57M339.32,371.25L339.32,374.35M337.98,372.02L340.67,373.57M340.67,372.02L337.98,373.57M343.18,371.25L343.18,374.35M341.83,372.02L344.52,373.57M344.52,372.02L341.83,373.57" stroke="#1a1a1a" stroke-width="0.8" fill="none"/>
<line x1="310.00" y1="391.00" x2="310.00" y2="393.50" stroke="#1a1a1a" stroke-width="1.0" />
<line x1="306.20" y1="391.00" x2="313.80" y2="391.00" stroke="#1a1a1a" stroke-width="1.0" />
<line x1="306.20" y1="393.50" x2="313.80" y2="393.50" stroke="#1a1a1a" stroke-width="1.0" />
<line x1="328.50" y1="395.80" x2="328.50" y2="397.50" stroke="#1a1a1a" stroke-width="1.0" />
<line x1="324.70" y1="395.80" x2="332.30" y2="395.80" stroke="#1a1a1a" stroke-width="1.0" />
<line x1="324.70" y1="397.50" x2="332.30" y2="397.50" stroke="#1a1a1a" stroke-width="1.0" />
<line x1="346.60" y1="385.50" x2="346.60" y2="389.70" stroke="#1a1a1a" stroke-width="1.0" />
<line x1="342.80" y1="385.50" x2="350.40" y2="385.50" stroke="#1a1a1a" stroke-width="1.0" />
<line x1="342.80" y1="389.70" x2="350.40" y2="389.70" stroke="#1a1a1a" stroke-width="1.0" />
<line x1="364.40" y1="396.00" x2="364.40" y2="398.00" stroke="#1a1a1a" stroke-width="1.0" />
<line x1="360.60" y1="396.00" x2="368.20" y2="396.00" stroke="#1a1a1a" stroke-width="1.0" />
<line x1="360.60" y1="398.00" x2="368.20" y2="398.00" stroke="#1a1a1a" stroke-width="1.0" />
<circle cx="307.00" cy="389.50" r="1.7" fill="#0b4a8b"/>
<circle cx="304.00" cy="392.00" r="1.7" fill="#0b4a8b"/>
<circle cx="309.00" cy="393.00" r="1.7" fill="#0b4a8b"/>
<circle cx="312.00" cy="392.00" r="1.7" fill="#0b4a8b"/>
<circle cx="314.00" cy="391.50" r="1.7" fill="#0b4a8b"/>
<circle cx="316.00" cy="393.00" r="1.7" fill="#0b4a8b"/>
<circle cx="306.00" cy="395.00" r="1.7" fill="#0b4a8b"/>
<circle cx="311.00" cy="396.00" r="1.7" fill="#0b4a8b"/>
<circle cx="315.00" cy="396.50" r="1.7" fill="#0b4a8b"/>
<circle cx="312.00" cy="398.00" r="1.7" fill="#0b4a8b"/>
<circle cx="332.10" cy="393.70" r="1.7" fill="#27b53c"/>
<circle cx="329.00" cy="395.00" r="1.7" fill="#27b53c"/>
<circle cx="326.00" cy="396.00" r="1.7" fill="#27b53c"/>
<circle cx="333.00" cy="396.00" r="1.7" fill="#27b53c"/>
<circle cx="335.00" cy="396.50" r="1.7" fill="#27b53c"/>
<circle cx="324.00" cy="397.50" r="1.7" fill="#27b53c"/>
<circle cx="330.00" cy="397.00" r="1.7" fill="#27b53c"/>
<circle cx="346.70" cy="384.20" r="1.7" fill="#4b1068"/>
<circle cx="342.10" cy="386.40" r="1.7" fill="#4b1068"/>
<circle cx="351.60" cy="387.70" r="1.7" fill="#4b1068"/>
<circle cx="347.10" cy="392.80" r="1.7" fill="#4b1068"/>
<circle cx="344.30" cy="386.80" r="1.7" fill="#4b1068"/>
<circle cx="364.40" cy="391.60" r="1.7" fill="#d0112b"/>
<circle cx="359.90" cy="398.00" r="1.7" fill="#d0112b"/>
<circle cx="363.00" cy="397.00" r="1.7" fill="#d0112b"/>
<circle cx="366.20" cy="397.40" r="1.7" fill="#d0112b"/>
<circle cx="369.00" cy="397.40" r="1.7" fill="#d0112b"/>
<line x1="298.80" y1="373.70" x2="298.80" y2="442.00" stroke="#1a1a1a" stroke-width="1.3" />
<line x1="298.20" y1="441.40" x2="378.10" y2="441.40" stroke="#1a1a1a" stroke-width="1.3" />
<line x1="337.90" y1="441.40" x2="337.90" y2="444.00" stroke="#1a1a1a" stroke-width="0.9" />
<line x1="295.40" y1="378.80" x2="298.80" y2="378.80" stroke="#1a1a1a" stroke-width="1.0" />
<text x="292.20" y="382.00" font-size="8.6" text-anchor="end" textLength="7.70" lengthAdjust="spacingAndGlyphs" >40</text>
<line x1="295.40" y1="394.30" x2="298.80" y2="394.30" stroke="#1a1a1a" stroke-width="1.0" />
<text x="292.20" y="397.50" font-size="8.6" text-anchor="end" textLength="7.70" lengthAdjust="spacingAndGlyphs" >30</text>
<line x1="295.40" y1="410.20" x2="298.80" y2="410.20" stroke="#1a1a1a" stroke-width="1.0" />
<text x="292.20" y="413.40" font-size="8.6" text-anchor="end" textLength="7.70" lengthAdjust="spacingAndGlyphs" >20</text>
<line x1="295.40" y1="425.70" x2="298.80" y2="425.70" stroke="#1a1a1a" stroke-width="1.0" />
<text x="292.20" y="428.90" font-size="8.6" text-anchor="end" textLength="7.70" lengthAdjust="spacingAndGlyphs" >10</text>
<line x1="295.40" y1="440.90" x2="298.80" y2="440.90" stroke="#1a1a1a" stroke-width="1.0" />
<text x="292.20" y="444.10" font-size="8.6" text-anchor="end" textLength="4.20" lengthAdjust="spacingAndGlyphs" >0</text>
<text x="278.10" y="410.05" font-size="10.0" text-anchor="middle" textLength="42.90" lengthAdjust="spacingAndGlyphs" transform="rotate(-90 278.10 410.05)" >MCHC (g/dL)</text>
<text x="298.90" y="452.70" font-size="8.9" text-anchor="end" textLength="12.80" lengthAdjust="spacingAndGlyphs" >LPS</text>
<line x1="307.45" y1="450.00" x2="311.75" y2="450.00" stroke="#1a1a1a" stroke-width="0.85" />
<line x1="326.15" y1="450.00" x2="330.45" y2="450.00" stroke="#1a1a1a" stroke-width="0.85" />
<line x1="328.30" y1="447.85" x2="328.30" y2="452.15" stroke="#1a1a1a" stroke-width="0.85" />
<line x1="344.15" y1="450.00" x2="348.45" y2="450.00" stroke="#1a1a1a" stroke-width="0.85" />
<line x1="362.35" y1="450.00" x2="366.65" y2="450.00" stroke="#1a1a1a" stroke-width="0.85" />
<line x1="364.50" y1="447.85" x2="364.50" y2="452.15" stroke="#1a1a1a" stroke-width="0.85" />
<line x1="307.40" y1="455.90" x2="331.80" y2="455.90" stroke="#1a1a1a" stroke-width="1.1" />
<line x1="343.40" y1="455.90" x2="369.70" y2="455.90" stroke="#1a1a1a" stroke-width="1.1" />
<text x="319.95" y="466.70" font-size="10.2" text-anchor="middle" textLength="9.90" lengthAdjust="spacingAndGlyphs" >WT</text>
<text x="356.20" y="466.70" font-size="10.2" text-anchor="middle" textLength="28.40" lengthAdjust="spacingAndGlyphs" >Rage KO</text>
<text x="5.80" y="502.80" font-size="11.2" font-weight="bold" fill="#000" >E</text>
<g transform="translate(-146.47,212.32) scale(0.5933)">
<path d="M257.8,533.2 C262,533.5 266,530 270,527 C276,522.5 282,523 287.5,530" fill="none" stroke="#222" stroke-width="2.4" stroke-linecap="round"/>
<g fill="#c9c9c9" stroke="#1e1e1e" stroke-width="3.0" stroke-linejoin="round"><ellipse cx="285.6" cy="542.2" rx="13.6" ry="12.6"/><ellipse cx="276" cy="545.5" rx="6.7" ry="5.2"/><ellipse cx="295.4" cy="545.5" rx="6.7" ry="5.2"/><path d="M272.6,547.5 C274.5,554.5 280.5,561.5 285.5,562.6 C290.5,561.5 296.5,554.5 298.4,547.5 Z"/></g>
<g fill="#c9c9c9" stroke="none"><ellipse cx="285.6" cy="542.2" rx="13.6" ry="12.6"/><ellipse cx="276" cy="545.5" rx="6.7" ry="5.2"/><ellipse cx="295.4" cy="545.5" rx="6.7" ry="5.2"/><path d="M272.6,547.5 C274.5,554.5 280.5,561.5 285.5,562.6 C290.5,561.5 296.5,554.5 298.4,547.5 Z"/></g>
<path d="M271.5,547.5 Q272.5,541.5 278,541.8 Q282,542.5 282.2,548" fill="#9c9c9c" stroke="none"/>
<path d="M299.5,547.5 Q298.5,541.5 293,541.8 Q289,542.5 288.8,548" fill="#9c9c9c" stroke="none"/>
<path d="M272.8,547.5 Q274,544 277.5,544.3 Q280.2,545 280.8,548" fill="#dcdcdc" stroke="none"/>
<path d="M298.2,547.5 Q297,544 293.5,544.3 Q290.8,545 290.2,548" fill="#dcdcdc" stroke="none"/>
<path d="M273.5,542.5 Q278,539.5 282.2,543.5 L282.5,548.5" fill="none" stroke="#1e1e1e" stroke-width="1.1"/>
<path d="M297.5,542.5 Q293,539.5 288.8,543.5 L288.5,548.5" fill="none" stroke="#1e1e1e" stroke-width="1.1"/>
<circle cx="281.4" cy="555.6" r="1.55" fill="#111"/><circle cx="289.6" cy="555.6" r="1.55" fill="#111"/><circle cx="285.5" cy="560.8" r="1.2" fill="#111"/>
<g stroke="#222" stroke-width="1.1" fill="none"><path d="M280,558.5 L273.8,557.5 M280.5,559.3 L274.5,561.5 M281.2,560 L276.5,564.5 M281.8,560.5 L279,565.5"/><path d="M291,558.5 L297.4,557.5 M290.5,559.3 L296.5,561.5 M289.8,560 L294.5,564.5 M289.2,560.5 L292,565.5"/></g>
</g>
<text x="30.00" y="503.00" font-size="8.7" textLength="13.00" lengthAdjust="spacingAndGlyphs" >LPS</text>
<text x="88.75" y="503.00" font-size="8.7" textLength="27.50" lengthAdjust="spacingAndGlyphs" >HMGB1</text>
<line x1="36.60" y1="506.80" x2="36.60" y2="534.90" stroke="#1a1a1a" stroke-width="1.1" />
<polygon points="34.60,534.40 38.60,534.40 36.60,538.00" fill="#1a1a1a"/>
<line x1="100.50" y1="506.80" x2="100.50" y2="533.70" stroke="#1a1a1a" stroke-width="1.1" />
<polygon points="98.50,533.20 102.50,533.20 100.50,536.80" fill="#1a1a1a"/>
<line x1="36.20" y1="538.00" x2="96.10" y2="538.00" stroke="#1a1a1a" stroke-width="1.1" />
<polygon points="95.60,536.00 95.60,540.00 99.20,538.00" fill="#1a1a1a"/>
<line x1="103.00" y1="538.00" x2="145.10" y2="538.00" stroke="#1a1a1a" stroke-width="1.1" />
<polygon points="144.60,536.00 144.60,540.00 148.20,538.00" fill="#1a1a1a"/>
<text x="53.00" y="534.20" font-size="8.3" textLength="22.00" lengthAdjust="spacingAndGlyphs" >6 days</text>
<text x="109.50" y="533.70" font-size="8.3" textLength="22.50" lengthAdjust="spacingAndGlyphs" >7 days</text>
<g transform="translate(162.70,533.30) rotate(-45.5)">
<g fill="#e4e4e4" stroke="#1e1e1e" stroke-width="1.70"><rect x="-8.90" y="-1.40" width="17.80" height="2.80"/><circle cx="-8.90" cy="-2.75" r="3.40"/><circle cx="-8.90" cy="2.75" r="3.40"/><circle cx="8.90" cy="-2.75" r="3.40"/><circle cx="8.90" cy="2.75" r="3.40"/></g>
<g fill="#e4e4e4" stroke="none"><rect x="-8.90" y="-1.40" width="17.80" height="2.80"/><circle cx="-8.90" cy="-2.75" r="3.40"/><circle cx="-8.90" cy="2.75" r="3.40"/><circle cx="8.90" cy="-2.75" r="3.40"/><circle cx="8.90" cy="2.75" r="3.40"/></g>
</g>
<polyline points="172.6,514.7 177.3,514.7 177.3,550.1 172.6,550.1" fill="none" stroke="#1a1a1a" stroke-width="0.9"/>
<line x1="177.30" y1="532.20" x2="181.30" y2="532.20" stroke="#1a1a1a" stroke-width="0.9" />
<text x="184.00" y="530.40" font-size="8.2" textLength="23.20" lengthAdjust="spacingAndGlyphs" >pStat5</text>
<text x="184.00" y="539.90" font-size="8.2" textLength="12.80" lengthAdjust="spacingAndGlyphs" >pS6</text>
<text x="81.20" y="568.80" font-size="8.6" text-anchor="middle" textLength="12.40" lengthAdjust="spacingAndGlyphs" >WT</text>
<text x="121.50" y="563.80" font-size="8.6" text-anchor="middle" textLength="12.00" lengthAdjust="spacingAndGlyphs" >BM</text>
<text x="165.80" y="568.30" font-size="9.0" text-anchor="middle" textLength="32.50" lengthAdjust="spacingAndGlyphs" >Rage KO</text>
<line x1="45.00" y1="572.30" x2="117.00" y2="572.30" stroke="#1a1a1a" stroke-width="0.9" />
<line x1="125.40" y1="572.30" x2="197.70" y2="572.30" stroke="#1a1a1a" stroke-width="0.9" />
<text x="38.00" y="582.20" font-size="8.6" text-anchor="end" textLength="28.50" lengthAdjust="spacingAndGlyphs" >HMGB1</text>
<text x="38.00" y="592.20" font-size="8.4" text-anchor="end" textLength="15.80" lengthAdjust="spacingAndGlyphs" >EPO</text>
<line x1="46.15" y1="579.00" x2="50.25" y2="579.00" stroke="#1a1a1a" stroke-width="0.85" />
<line x1="46.15" y1="589.60" x2="50.25" y2="589.60" stroke="#1a1a1a" stroke-width="0.85" />
<line x1="57.49" y1="579.00" x2="61.59" y2="579.00" stroke="#1a1a1a" stroke-width="0.85" />
<line x1="57.49" y1="589.60" x2="61.59" y2="589.60" stroke="#1a1a1a" stroke-width="0.85" />
<line x1="59.54" y1="587.55" x2="59.54" y2="591.65" stroke="#1a1a1a" stroke-width="0.85" />
<line x1="68.83" y1="579.00" x2="72.93" y2="579.00" stroke="#1a1a1a" stroke-width="0.85" />
<line x1="68.83" y1="589.60" x2="72.93" y2="589.60" stroke="#1a1a1a" stroke-width="0.85" />
<line x1="70.88" y1="587.55" x2="70.88" y2="591.65" stroke="#1a1a1a" stroke-width="0.85" />
<line x1="80.17" y1="579.00" x2="84.27" y2="579.00" stroke="#1a1a1a" stroke-width="0.85" />
<line x1="80.17" y1="589.60" x2="84.27" y2="589.60" stroke="#1a1a1a" stroke-width="0.85" />
<line x1="82.22" y1="587.55" x2="82.22" y2="591.65" stroke="#1a1a1a" stroke-width="0.85" />
<line x1="91.51" y1="579.00" x2="95.61" y2="579.00" stroke="#1a1a1a" stroke-width="0.85" />
<line x1="93.56" y1="576.95" x2="93.56" y2="581.05" stroke="#1a1a1a" stroke-width="0.85" />
<line x1="91.51" y1="589.60" x2="95.61" y2="589.60" stroke="#1a1a1a" stroke-width="0.85" />
<line x1="93.56" y1="587.55" x2="93.56" y2="591.65" stroke="#1a1a1a" stroke-width="0.85" />
<line x1="102.85" y1="579.00" x2="106.95" y2="579.00" stroke="#1a1a1a" stroke-width="0.85" />
<line x1="104.90" y1="576.95" x2="104.90" y2="581.05" stroke="#1a1a1a" stroke-width="0.85" />
<line x1="102.85" y1="589.60" x2="106.95" y2="589.60" stroke="#1a1a1a" stroke-width="0.85" />
<line x1="104.90" y1="587.55" x2="104.90" y2="591.65" stroke="#1a1a1a" stroke-width="0.85" />
<line x1="114.19" y1="579.00" x2="118.29" y2="579.00" stroke="#1a1a1a" stroke-width="0.85" />
<line x1="116.24" y1="576.95" x2="116.24" y2="581.05" stroke="#1a1a1a" stroke-width="0.85" />
<line x1="114.19" y1="589.60" x2="118.29" y2="589.60" stroke="#1a1a1a" stroke-width="0.85" />
<line x1="116.24" y1="587.55" x2="116.24" y2="591.65" stroke="#1a1a1a" stroke-width="0.85" />
<line x1="125.53" y1="579.00" x2="129.63" y2="579.00" stroke="#1a1a1a" stroke-width="0.85" />
<line x1="125.53" y1="589.60" x2="129.63" y2="589.60" stroke="#1a1a1a" stroke-width="0.85" />
<line x1="136.87" y1="579.00" x2="140.97" y2="579.00" stroke="#1a1a1a" stroke-width="0.85" />
<line x1="136.87" y1="589.60" x2="140.97" y2="589.60" stroke="#1a1a1a" stroke-width="0.85" />
<line x1="138.92" y1="587.55" x2="138.92" y2="591.65" stroke="#1a1a1a" stroke-width="0.85" />
<line x1="148.21" y1="579.00" x2="152.31" y2="579.00" stroke="#1a1a1a" stroke-width="0.85" />
<line x1="148.21" y1="589.60" x2="152.31" y2="589.60" stroke="#1a1a1a" stroke-width="0.85" />
<line x1="150.26" y1="587.55" x2="150.26" y2="591.65" stroke="#1a1a1a" stroke-width="0.85" />
<line x1="159.55" y1="579.00" x2="163.65" y2="579.00" stroke="#1a1a1a" stroke-width="0.85" />
<line x1="159.55" y1="589.60" x2="163.65" y2="589.60" stroke="#1a1a1a" stroke-width="0.85" />
<line x1="161.60" y1="587.55" x2="161.60" y2="591.65" stroke="#1a1a1a" stroke-width="0.85" />
<line x1="170.89" y1="579.00" x2="174.99" y2="579.00" stroke="#1a1a1a" stroke-width="0.85" />
<line x1="172.94" y1="576.95" x2="172.94" y2="581.05" stroke="#1a1a1a" stroke-width="0.85" />
<line x1="170.89" y1="589.60" x2="174.99" y2="589.60" stroke="#1a1a1a" stroke-width="0.85" />
<line x1="172.94" y1="587.55" x2="172.94" y2="591.65" stroke="#1a1a1a" stroke-width="0.85" />
<line x1="182.23" y1="579.00" x2="186.33" y2="579.00" stroke="#1a1a1a" stroke-width="0.85" />
<line x1="184.28" y1="576.95" x2="184.28" y2="581.05" stroke="#1a1a1a" stroke-width="0.85" />
<line x1="182.23" y1="589.60" x2="186.33" y2="589.60" stroke="#1a1a1a" stroke-width="0.85" />
<line x1="184.28" y1="587.55" x2="184.28" y2="591.65" stroke="#1a1a1a" stroke-width="0.85" />
<line x1="193.57" y1="579.00" x2="197.67" y2="579.00" stroke="#1a1a1a" stroke-width="0.85" />
<line x1="195.62" y1="576.95" x2="195.62" y2="581.05" stroke="#1a1a1a" stroke-width="0.85" />
<line x1="193.57" y1="589.60" x2="197.67" y2="589.60" stroke="#1a1a1a" stroke-width="0.85" />
<line x1="195.62" y1="587.55" x2="195.62" y2="591.65" stroke="#1a1a1a" stroke-width="0.85" />
<text x="38.00" y="606.10" font-size="8.1" text-anchor="end" textLength="23.50" lengthAdjust="spacingAndGlyphs" >pStat5</text>
<text x="38.00" y="624.00" font-size="8.1" text-anchor="end" textLength="18.50" lengthAdjust="spacingAndGlyphs" >Stat5</text>
<text x="38.00" y="642.05" font-size="8.1" text-anchor="end" textLength="13.70" lengthAdjust="spacingAndGlyphs" >pS6</text>
<text x="38.00" y="659.95" font-size="8.1" text-anchor="end" textLength="8.40" lengthAdjust="spacingAndGlyphs" >S6</text>
<rect x="40.90" y="595.60" width="161.70" height="15.20" fill="#fbfbfb" stroke="#1a1a1a" stroke-width="1.0" />
<ellipse cx="58.40" cy="606.80" rx="4.85" ry="3.70" fill="#c6c6c6" filter="url(#bl3)"/>
<rect x="53.80" y="602.40" width="9.20" height="4.40" rx="2.76" ry="1.85" fill="#000000" filter="url(#bl)"/>
<ellipse cx="68.90" cy="606.80" rx="4.85" ry="3.70" fill="#c6c6c6" filter="url(#bl3)"/>
<rect x="64.30" y="602.40" width="9.20" height="4.40" rx="2.76" ry="1.85" fill="#000000" filter="url(#bl)"/>
<ellipse cx="80.50" cy="606.80" rx="4.85" ry="3.70" fill="#cfcfcf" filter="url(#bl3)"/>
<rect x="75.90" y="602.40" width="9.20" height="4.40" rx="2.76" ry="1.85" fill="#262626" filter="url(#bl)"/>
<ellipse cx="137.10" cy="606.80" rx="4.85" ry="3.70" fill="#c6c6c6" filter="url(#bl3)"/>
<rect x="132.50" y="602.40" width="9.20" height="4.40" rx="2.76" ry="1.85" fill="#000000" filter="url(#bl)"/>
<ellipse cx="148.20" cy="606.80" rx="4.85" ry="3.70" fill="#e2e2e2" filter="url(#bl3)"/>
<rect x="144.00" y="602.63" width="8.39" height="3.94" rx="2.52" ry="1.65" fill="#7f7f7f" filter="url(#bl)"/>
<ellipse cx="160.20" cy="606.80" rx="4.85" ry="3.70" fill="#d7d7d7" filter="url(#bl3)"/>
<rect x="155.70" y="602.46" width="8.99" height="4.28" rx="2.70" ry="1.80" fill="#4c4c4c" filter="url(#bl)"/>
<rect x="40.90" y="613.40" width="161.70" height="15.40" fill="#fbfbfb" stroke="#1a1a1a" stroke-width="1.0" />
<ellipse cx="47.00" cy="624.30" rx="4.45" ry="3.10" fill="#f0f0f0" filter="url(#bl3)"/>
<rect x="43.51" y="620.82" width="6.98" height="2.55" rx="2.09" ry="1.07" fill="#bfbfbf" filter="url(#bl)"/>
<ellipse cx="58.40" cy="624.30" rx="4.45" ry="3.10" fill="#eeeeee" filter="url(#bl3)"/>
<rect x="54.84" y="620.79" width="7.12" height="2.61" rx="2.14" ry="1.10" fill="#b2b2b2" filter="url(#bl)"/>
<ellipse cx="68.90" cy="624.30" rx="4.45" ry="3.10" fill="#f0f0f0" filter="url(#bl3)"/>
<rect x="65.41" y="620.82" width="6.98" height="2.55" rx="2.09" ry="1.07" fill="#bfbfbf" filter="url(#bl)"/>
<ellipse cx="80.50" cy="624.30" rx="4.45" ry="3.10" fill="#f8f8f8" filter="url(#bl3)"/>
<rect x="77.19" y="620.91" width="6.63" height="2.39" rx="1.99" ry="1.00" fill="#e0e0e0" filter="url(#bl)"/>
<ellipse cx="90.70" cy="624.30" rx="4.45" ry="3.10" fill="#ebebeb" filter="url(#bl3)"/>
<rect x="87.07" y="620.76" width="7.26" height="2.68" rx="2.18" ry="1.12" fill="#a5a5a5" filter="url(#bl)"/>
<ellipse cx="102.50" cy="624.30" rx="4.45" ry="3.10" fill="#dddddd" filter="url(#bl3)"/>
<rect x="98.53" y="620.61" width="7.94" height="2.99" rx="2.38" ry="1.26" fill="#666666" filter="url(#bl)"/>
<ellipse cx="113.90" cy="624.30" rx="4.45" ry="3.10" fill="#dadada" filter="url(#bl3)"/>
<rect x="109.86" y="620.57" width="8.07" height="3.05" rx="2.42" ry="1.28" fill="#595959" filter="url(#bl)"/>
<ellipse cx="124.50" cy="624.30" rx="4.45" ry="3.10" fill="#ebebeb" filter="url(#bl3)"/>
<rect x="120.87" y="620.76" width="7.26" height="2.68" rx="2.18" ry="1.12" fill="#a5a5a5" filter="url(#bl)"/>
<ellipse cx="137.10" cy="624.30" rx="4.45" ry="3.10" fill="#e8e8e8" filter="url(#bl3)"/>
<rect x="133.40" y="620.73" width="7.39" height="2.74" rx="2.22" ry="1.15" fill="#999999" filter="url(#bl)"/>
<ellipse cx="148.20" cy="624.30" rx="4.45" ry="3.10" fill="#f8f8f8" filter="url(#bl3)"/>
<rect x="144.89" y="620.91" width="6.63" height="2.39" rx="1.99" ry="1.00" fill="#e0e0e0" filter="url(#bl)"/>
<ellipse cx="160.20" cy="624.30" rx="4.45" ry="3.10" fill="#f6f6f6" filter="url(#bl3)"/>
<rect x="156.85" y="620.89" width="6.71" height="2.43" rx="2.01" ry="1.02" fill="#d8d8d8" filter="url(#bl)"/>
<ellipse cx="171.10" cy="624.30" rx="4.45" ry="3.10" fill="#e0e0e0" filter="url(#bl3)"/>
<rect x="167.20" y="620.64" width="7.80" height="2.93" rx="2.34" ry="1.23" fill="#727272" filter="url(#bl)"/>
<ellipse cx="181.70" cy="624.30" rx="4.45" ry="3.10" fill="#e2e2e2" filter="url(#bl3)"/>
<rect x="177.87" y="620.67" width="7.67" height="2.86" rx="2.30" ry="1.20" fill="#7f7f7f" filter="url(#bl)"/>
<ellipse cx="195.10" cy="624.30" rx="4.45" ry="3.10" fill="#dddddd" filter="url(#bl3)"/>
<rect x="191.13" y="620.61" width="7.94" height="2.99" rx="2.38" ry="1.26" fill="#666666" filter="url(#bl)"/>
<rect x="40.90" y="631.60" width="161.70" height="15.10" fill="#fbfbfb" stroke="#1a1a1a" stroke-width="1.0" />
<ellipse cx="47.00" cy="640.40" rx="4.95" ry="3.80" fill="#e8e8e8" filter="url(#bl3)"/>
<rect x="42.86" y="636.23" width="8.27" height="3.94" rx="2.48" ry="1.65" fill="#999999" filter="url(#bl)"/>
<ellipse cx="58.40" cy="640.40" rx="4.95" ry="3.80" fill="#cfcfcf" filter="url(#bl3)"/>
<rect x="53.70" y="635.90" width="9.40" height="4.60" rx="2.82" ry="1.93" fill="#262626" filter="url(#bl)"/>
<ellipse cx="68.90" cy="640.40" rx="4.95" ry="3.80" fill="#cfcfcf" filter="url(#bl3)"/>
<rect x="64.20" y="635.90" width="9.40" height="4.60" rx="2.82" ry="1.93" fill="#262626" filter="url(#bl)"/>
<ellipse cx="80.50" cy="640.40" rx="4.95" ry="3.80" fill="#e2e2e2" filter="url(#bl3)"/>
<rect x="76.21" y="636.14" width="8.58" height="4.12" rx="2.57" ry="1.73" fill="#7f7f7f" filter="url(#bl)"/>
<rect x="87.13" y="636.56" width="7.14" height="3.27" rx="2.14" ry="1.38" fill="#f7f7f7" filter="url(#bl)"/>
<rect x="98.94" y="636.57" width="7.11" height="3.26" rx="2.13" ry="1.37" fill="#f9f9f9" filter="url(#bl)"/>
<rect x="110.33" y="636.56" width="7.14" height="3.27" rx="2.14" ry="1.38" fill="#f7f7f7" filter="url(#bl)"/>
<ellipse cx="124.50" cy="640.40" rx="4.95" ry="3.80" fill="#c6c6c6" filter="url(#bl3)"/>
<rect x="119.80" y="635.90" width="9.40" height="4.60" rx="2.82" ry="1.93" fill="#000000" filter="url(#bl)"/>
<ellipse cx="137.10" cy="640.40" rx="4.95" ry="3.80" fill="#c6c6c6" filter="url(#bl3)"/>
<rect x="132.40" y="635.90" width="9.40" height="4.60" rx="2.82" ry="1.93" fill="#000000" filter="url(#bl)"/>
<ellipse cx="148.20" cy="640.40" rx="4.95" ry="3.80" fill="#dddddd" filter="url(#bl3)"/>
<rect x="143.76" y="636.05" width="8.88" height="4.30" rx="2.66" ry="1.80" fill="#666666" filter="url(#bl)"/>
<ellipse cx="160.20" cy="640.40" rx="4.95" ry="3.80" fill="#c9c9c9" filter="url(#bl3)"/>
<rect x="155.50" y="635.90" width="9.40" height="4.60" rx="2.82" ry="1.93" fill="#0c0c0c" filter="url(#bl)"/>
<rect x="167.51" y="636.55" width="7.17" height="3.29" rx="2.15" ry="1.38" fill="#f4f4f4" filter="url(#bl)"/>
<ellipse cx="181.70" cy="640.40" rx="4.95" ry="3.80" fill="#fbfbfb" filter="url(#bl3)"/>
<rect x="178.08" y="636.54" width="7.23" height="3.33" rx="2.17" ry="1.40" fill="#efefef" filter="url(#bl)"/>
<ellipse cx="195.10" cy="640.40" rx="4.95" ry="3.80" fill="#fbfbfb" filter="url(#bl3)"/>
<rect x="191.48" y="636.54" width="7.23" height="3.33" rx="2.17" ry="1.40" fill="#efefef" filter="url(#bl)"/>
<rect x="40.90" y="649.40" width="161.70" height="15.30" fill="#fbfbfb" stroke="#1a1a1a" stroke-width="1.0" />
<ellipse cx="47.00" cy="659.10" rx="5.15" ry="4.30" fill="#eeeeee" filter="url(#bl3)"/>
<rect x="42.85" y="654.61" width="8.31" height="4.58" rx="2.49" ry="1.92" fill="#b2b2b2" filter="url(#bl)"/>
<ellipse cx="58.40" cy="659.10" rx="5.15" ry="4.30" fill="#eeeeee" filter="url(#bl3)"/>
<rect x="54.25" y="654.61" width="8.31" height="4.58" rx="2.49" ry="1.92" fill="#b2b2b2" filter="url(#bl)"/>
<ellipse cx="68.90" cy="659.10" rx="5.15" ry="4.30" fill="#c6c6c6" filter="url(#bl3)"/>
<rect x="64.00" y="654.10" width="9.80" height="5.60" rx="2.94" ry="2.35" fill="#000000" filter="url(#bl)"/>
<ellipse cx="80.50" cy="659.10" rx="5.15" ry="4.30" fill="#c6c6c6" filter="url(#bl3)"/>
<rect x="75.60" y="654.10" width="9.80" height="5.60" rx="2.94" ry="2.35" fill="#000000" filter="url(#bl)"/>
<ellipse cx="90.70" cy="659.10" rx="5.15" ry="4.30" fill="#dddddd" filter="url(#bl3)"/>
<rect x="86.07" y="654.28" width="9.26" height="5.23" rx="2.78" ry="2.20" fill="#666666" filter="url(#bl)"/>
<ellipse cx="102.50" cy="659.10" rx="5.15" ry="4.30" fill="#c6c6c6" filter="url(#bl3)"/>
<rect x="97.60" y="654.10" width="9.80" height="5.60" rx="2.94" ry="2.35" fill="#000000" filter="url(#bl)"/>
<ellipse cx="113.90" cy="659.10" rx="5.15" ry="4.30" fill="#c6c6c6" filter="url(#bl3)"/>
<rect x="109.00" y="654.10" width="9.80" height="5.60" rx="2.94" ry="2.35" fill="#000000" filter="url(#bl)"/>
<ellipse cx="124.50" cy="659.10" rx="5.15" ry="4.30" fill="#c6c6c6" filter="url(#bl3)"/>
<rect x="119.60" y="654.10" width="9.80" height="5.60" rx="2.94" ry="2.35" fill="#000000" filter="url(#bl)"/>
<ellipse cx="137.10" cy="659.10" rx="5.15" ry="4.30" fill="#c6c6c6" filter="url(#bl3)"/>
<rect x="132.20" y="654.10" width="9.80" height="5.60" rx="2.94" ry="2.35" fill="#000000" filter="url(#bl)"/>
<ellipse cx="148.20" cy="659.10" rx="5.15" ry="4.30" fill="#dadada" filter="url(#bl3)"/>
<rect x="143.49" y="654.23" width="9.42" height="5.34" rx="2.83" ry="2.24" fill="#595959" filter="url(#bl)"/>
<ellipse cx="160.20" cy="659.10" rx="5.15" ry="4.30" fill="#e5e5e5" filter="url(#bl3)"/>
<rect x="155.81" y="654.45" width="8.78" height="4.90" rx="2.63" ry="2.06" fill="#8c8c8c" filter="url(#bl)"/>
<ellipse cx="171.10" cy="659.10" rx="5.15" ry="4.30" fill="#c6c6c6" filter="url(#bl3)"/>
<rect x="166.20" y="654.10" width="9.80" height="5.60" rx="2.94" ry="2.35" fill="#000000" filter="url(#bl)"/>
<ellipse cx="181.70" cy="659.10" rx="5.15" ry="4.30" fill="#e0e0e0" filter="url(#bl3)"/>
<rect x="177.15" y="654.34" width="9.10" height="5.12" rx="2.73" ry="2.15" fill="#727272" filter="url(#bl)"/>
<ellipse cx="195.10" cy="659.10" rx="5.15" ry="4.30" fill="#c6c6c6" filter="url(#bl3)"/>
<rect x="190.20" y="654.10" width="9.80" height="5.60" rx="2.94" ry="2.35" fill="#000000" filter="url(#bl)"/>
<rect x="64.90" y="598.85" width="8.00" height="1.50" rx="2.40" ry="0.63" fill="#c6c6c6" filter="url(#bl)"/>
<rect x="133.60" y="597.70" width="7.00" height="1.40" rx="2.10" ry="0.59" fill="#cccccc" filter="url(#bl)"/>
<text x="257.30" y="503.00" font-size="11.2" font-weight="bold" fill="#000" >F</text>
<g transform="translate(0.00,0.00) scale(1.0000)">
<path d="M257.8,533.2 C262,533.5 266,530 270,527 C276,522.5 282,523 287.5,530" fill="none" stroke="#222" stroke-width="2.4" stroke-linecap="round"/>
<path d="M257.8,533.2 C262,533.5 266,530 270,527 C276,522.5 282,523 287.5,530" fill="none" stroke="#9a9a9a" stroke-width="1.0" stroke-linecap="round"/>
<g fill="#c9c9c9" stroke="#1e1e1e" stroke-width="2.2" stroke-linejoin="round"><ellipse cx="285.6" cy="542.2" rx="13.6" ry="12.6"/><ellipse cx="276" cy="545.5" rx="6.7" ry="5.2"/><ellipse cx="295.4" cy="545.5" rx="6.7" ry="5.2"/><path d="M272.6,547.5 C274.5,554.5 280.5,561.5 285.5,562.6 C290.5,561.5 296.5,554.5 298.4,547.5 Z"/></g>
<g fill="#c9c9c9" stroke="none"><ellipse cx="285.6" cy="542.2" rx="13.6" ry="12.6"/><ellipse cx="276" cy="545.5" rx="6.7" ry="5.2"/><ellipse cx="295.4" cy="545.5" rx="6.7" ry="5.2"/><path d="M272.6,547.5 C274.5,554.5 280.5,561.5 285.5,562.6 C290.5,561.5 296.5,554.5 298.4,547.5 Z"/></g>
<path d="M271.5,547.5 Q272.5,541.5 278,541.8 Q282,542.5 282.2,548" fill="#9c9c9c" stroke="none"/>
<path d="M299.5,547.5 Q298.5,541.5 293,541.8 Q289,542.5 288.8,548" fill="#9c9c9c" stroke="none"/>
<path d="M272.8,547.5 Q274,544 277.5,544.3 Q280.2,545 280.8,548" fill="#dcdcdc" stroke="none"/>
<path d="M298.2,547.5 Q297,544 293.5,544.3 Q290.8,545 290.2,548" fill="#dcdcdc" stroke="none"/>
<path d="M273.5,542.5 Q278,539.5 282.2,543.5 L282.5,548.5" fill="none" stroke="#1e1e1e" stroke-width="1.1"/>
<path d="M297.5,542.5 Q293,539.5 288.8,543.5 L288.5,548.5" fill="none" stroke="#1e1e1e" stroke-width="1.1"/>
<circle cx="281.4" cy="555.6" r="1.55" fill="#111"/><circle cx="289.6" cy="555.6" r="1.55" fill="#111"/><circle cx="285.5" cy="560.8" r="1.2" fill="#111"/>
<g stroke="#222" stroke-width="0.7" fill="none"><path d="M280,558.5 L273.8,557.5 M280.5,559.3 L274.5,561.5 M281.2,560 L276.5,564.5 M281.8,560.5 L279,565.5"/><path d="M291,558.5 L297.4,557.5 M290.5,559.3 L296.5,561.5 M289.8,560 L294.5,564.5 M289.2,560.5 L292,565.5"/></g>
</g>
<text x="313.80" y="522.30" font-size="8.6" textLength="19.20" lengthAdjust="spacingAndGlyphs" >Sham</text>
<text x="313.80" y="557.30" font-size="8.5" textLength="14.20" lengthAdjust="spacingAndGlyphs" >CLP</text>
<line x1="303.80" y1="525.70" x2="382.30" y2="525.70" stroke="#1a1a1a" stroke-width="1.25" />
<polygon points="381.80,523.30 381.80,528.10 386.30,525.70" fill="#1a1a1a"/>
<line x1="303.80" y1="560.20" x2="345.20" y2="560.20" stroke="#1a1a1a" stroke-width="1.25" />
<polygon points="344.70,557.80 344.70,562.60 349.20,560.20" fill="#1a1a1a"/>
<line x1="350.00" y1="559.40" x2="383.05" y2="542.15" stroke="#1a1a1a" stroke-width="1.25" />
<polygon points="383.72,544.51 381.50,540.25 386.60,540.30" fill="#1a1a1a"/>
<line x1="350.00" y1="560.90" x2="383.00" y2="576.95" stroke="#1a1a1a" stroke-width="1.25" />
<polygon points="381.50,578.89 383.60,574.57 386.60,578.70" fill="#1a1a1a"/>
<text x="351.30" y="553.40" font-size="8.6" textLength="26.00" lengthAdjust="spacingAndGlyphs" transform="rotate(-28 351.30 553.40)" >Isotype</text>
<text x="353.00" y="572.60" font-size="8.8" textLength="13.60" lengthAdjust="spacingAndGlyphs" transform="rotate(27 353.00 572.60)" >2G7</text>
<polyline points="398.8,513.4 405.3,513.4 405.3,584.3 398.8,584.3" fill="none" stroke="#1a1a1a" stroke-width="1.0"/>
<line x1="405.30" y1="549.30" x2="409.60" y2="549.30" stroke="#1a1a1a" stroke-width="1.0" />
<g transform="translate(428.3,524.0) rotate(-17)"><ellipse cx="0" cy="0" rx="9.8" ry="4.9" fill="#e3262c" stroke="#1a1a1a" stroke-width="0.9"/><path d="M-3.6,0.2 Q0,2.6 3.6,0.2" fill="none" stroke="#4a0a0c" stroke-width="0.9"/></g>
<text x="448.30" y="526.20" font-size="8.3" textLength="15.20" lengthAdjust="spacingAndGlyphs" >CBC</text>
<g transform="translate(429.10,549.20) rotate(-46)">
<g fill="#e4e4e4" stroke="#1e1e1e" stroke-width="1.80"><rect x="-9.25" y="-1.45" width="18.50" height="2.90"/><circle cx="-9.25" cy="-2.90" r="3.60"/><circle cx="-9.25" cy="2.90" r="3.60"/><circle cx="9.25" cy="-2.90" r="3.60"/><circle cx="9.25" cy="2.90" r="3.60"/></g>
<g fill="#e4e4e4" stroke="none"><rect x="-9.25" y="-1.45" width="18.50" height="2.90"/><circle cx="-9.25" cy="-2.90" r="3.60"/><circle cx="-9.25" cy="2.90" r="3.60"/><circle cx="9.25" cy="-2.90" r="3.60"/><circle cx="9.25" cy="2.90" r="3.60"/></g>
</g>
<path d="M411.6,581.6 Q414,567.5 428.4,567.8 Q442.8,567.5 445.2,581.6 Q437,574.5 428.4,574.6 Q419.8,574.5 411.6,581.6 Z" fill="#8a4a1e" stroke="#111" stroke-width="1.0" stroke-linejoin="round"/>
<polyline points="446.7,533.8 452.2,533.8 452.2,584.3 446.7,584.3" fill="none" stroke="#1a1a1a" stroke-width="1.0"/>
<line x1="452.20" y1="558.00" x2="457.50" y2="558.00" stroke="#1a1a1a" stroke-width="1.0" />
<text x="462.80" y="557.40" font-size="8.7" textLength="50.50" lengthAdjust="spacingAndGlyphs" >Erythropoiesis</text>
<text x="462.80" y="566.50" font-size="8.5" textLength="23.10" lengthAdjust="spacingAndGlyphs" >pStat5</text>
<rect x="0.5" y="0.5" width="519" height="671" fill="none" stroke="#111" stroke-width="1"/>
</svg></div></body></html>
